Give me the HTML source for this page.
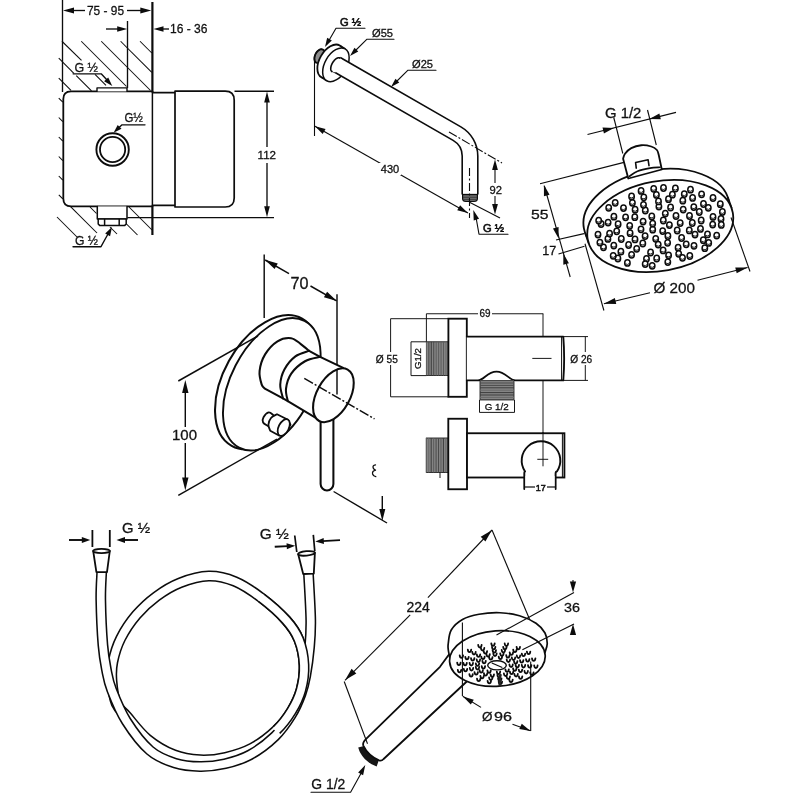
<!DOCTYPE html>
<html><head><meta charset="utf-8"><title>Shower set dimensions</title>
<style>
html,body{margin:0;padding:0;background:#fff;}
svg{display:block;filter:blur(0.35px);font-family:"Liberation Sans",sans-serif;fill:#151515;}
</style></head><body>
<svg width="800" height="800" viewBox="0 0 800 800">
<rect width="800" height="800" fill="#fff"/>
<!-- c1 -->
<line x1="62.50" y1="0.00" x2="62.50" y2="92.00" stroke="#0c0c0c" stroke-width="1.35" stroke-linecap="butt"/>
<line x1="152.40" y1="2.00" x2="152.40" y2="92.00" stroke="#0c0c0c" stroke-width="2.2" stroke-linecap="butt"/>
<line x1="152.40" y1="205.00" x2="152.40" y2="235.00" stroke="#0c0c0c" stroke-width="2.2" stroke-linecap="butt"/>
<line x1="70.00" y1="10.50" x2="85.00" y2="10.50" stroke="#0c0c0c" stroke-width="1.35" stroke-linecap="butt"/>
<line x1="127.00" y1="10.50" x2="145.00" y2="10.50" stroke="#0c0c0c" stroke-width="1.35" stroke-linecap="butt"/>
<polygon points="63.00,10.50 74.00,7.60 74.00,13.40" fill="#0c0c0c"/>
<polygon points="151.30,10.50 140.30,13.40 140.30,7.60" fill="#0c0c0c"/>
<text x="105.50" y="15.00" font-size="12.5" text-anchor="middle" font-weight="normal" stroke="#0c0c0c" stroke-width="0.28" textLength="37.0" lengthAdjust="spacingAndGlyphs">75 - 95</text>
<line x1="127.50" y1="21.00" x2="127.50" y2="88.00" stroke="#0c0c0c" stroke-width="1.35" stroke-linecap="butt"/>
<line x1="106.00" y1="29.00" x2="120.00" y2="29.00" stroke="#0c0c0c" stroke-width="1.35" stroke-linecap="butt"/>
<polygon points="127.20,29.00 117.20,31.80 117.20,26.20" fill="#0c0c0c"/>
<polygon points="153.50,29.00 163.50,26.20 163.50,31.80" fill="#0c0c0c"/>
<line x1="160.00" y1="29.00" x2="169.00" y2="29.00" stroke="#0c0c0c" stroke-width="1.35" stroke-linecap="butt"/>
<text x="170.00" y="33.20" font-size="12.5" text-anchor="start" font-weight="normal" stroke="#0c0c0c" stroke-width="0.28" textLength="37.5" lengthAdjust="spacingAndGlyphs">16 - 36</text>
<line x1="61.90" y1="41.25" x2="81.50" y2="60.30" stroke="#0c0c0c" stroke-width="1.05" stroke-linecap="butt"/>
<line x1="95.00" y1="74.40" x2="106.00" y2="85.40" stroke="#0c0c0c" stroke-width="1.05" stroke-linecap="butt"/>
<line x1="81.25" y1="41.25" x2="126.50" y2="86.50" stroke="#0c0c0c" stroke-width="1.05" stroke-linecap="butt"/>
<line x1="101.25" y1="41.25" x2="150.50" y2="90.50" stroke="#0c0c0c" stroke-width="1.05" stroke-linecap="butt"/>
<line x1="120.60" y1="41.25" x2="151.80" y2="72.40" stroke="#0c0c0c" stroke-width="1.05" stroke-linecap="butt"/>
<line x1="140.00" y1="41.25" x2="151.80" y2="53.00" stroke="#0c0c0c" stroke-width="1.05" stroke-linecap="butt"/>
<line x1="58.75" y1="58.10" x2="73.90" y2="73.30" stroke="#0c0c0c" stroke-width="1.05" stroke-linecap="butt"/>
<line x1="76.25" y1="75.60" x2="91.50" y2="90.90" stroke="#0c0c0c" stroke-width="1.05" stroke-linecap="butt"/>
<line x1="58.75" y1="78.10" x2="71.00" y2="90.40" stroke="#0c0c0c" stroke-width="1.05" stroke-linecap="butt"/>
<line x1="58.75" y1="98.10" x2="62.80" y2="102.15" stroke="#0c0c0c" stroke-width="1.05" stroke-linecap="butt"/>
<line x1="58.75" y1="117.50" x2="62.80" y2="121.55" stroke="#0c0c0c" stroke-width="1.05" stroke-linecap="butt"/>
<line x1="58.75" y1="137.00" x2="62.80" y2="141.05" stroke="#0c0c0c" stroke-width="1.05" stroke-linecap="butt"/>
<line x1="58.75" y1="156.50" x2="62.80" y2="160.55" stroke="#0c0c0c" stroke-width="1.05" stroke-linecap="butt"/>
<line x1="58.75" y1="176.00" x2="62.80" y2="180.05" stroke="#0c0c0c" stroke-width="1.05" stroke-linecap="butt"/>
<line x1="58.80" y1="194.80" x2="62.80" y2="198.80" stroke="#0c0c0c" stroke-width="1.05" stroke-linecap="butt"/>
<line x1="70.30" y1="206.30" x2="97.00" y2="233.00" stroke="#0c0c0c" stroke-width="1.05" stroke-linecap="butt"/>
<line x1="57.00" y1="217.00" x2="77.00" y2="237.00" stroke="#0c0c0c" stroke-width="1.05" stroke-linecap="butt"/>
<line x1="90.00" y1="207.00" x2="96.50" y2="213.50" stroke="#0c0c0c" stroke-width="1.05" stroke-linecap="butt"/>
<line x1="129.00" y1="207.00" x2="152.00" y2="230.00" stroke="#0c0c0c" stroke-width="1.05" stroke-linecap="butt"/>
<line x1="124.50" y1="222.00" x2="137.50" y2="235.00" stroke="#0c0c0c" stroke-width="1.05" stroke-linecap="butt"/>
<line x1="110.00" y1="227.00" x2="117.00" y2="234.00" stroke="#0c0c0c" stroke-width="1.05" stroke-linecap="butt"/>
<path d="M152.4,91.4 H71 Q63.3,91.4 63.3,99.1 V198.5 Q63.3,206.4 71.2,206.4 H152.4" fill="#fff" stroke="#0c0c0c" stroke-width="1.8" stroke-linejoin="round" stroke-linecap="round" />
<line x1="152.40" y1="91.00" x2="152.40" y2="206.00" stroke="#0c0c0c" stroke-width="1.5" stroke-linecap="butt"/>
<path d="M152.4,92.6 H175 M152.4,205.4 H175" fill="none" stroke="#0c0c0c" stroke-width="1.6" stroke-linejoin="round" stroke-linecap="round" />
<path d="M175,91.2 H225.2 Q234.2,91.2 234.2,100.2 V198 Q234.2,207 225.2,207 H175 Z" fill="#fff" stroke="#0c0c0c" stroke-width="1.7" stroke-linejoin="round" stroke-linecap="round" />
<path d="M97,91.4 V87.9 H127 V91.4" fill="#fff" stroke="#0c0c0c" stroke-width="1.4" stroke-linejoin="round" stroke-linecap="round" />
<path d="M97.3,206.4 V219 H127 V206.4" fill="#fff" stroke="#0c0c0c" stroke-width="1.5" stroke-linejoin="round" stroke-linecap="round" />
<path d="M98.2,219 V224 L99.6,225.4 H124.8 L126.2,224 V219 Z M104.6,219 V225.4 M119.2,219 V225.4" fill="#fff" stroke="#0c0c0c" stroke-width="1.5" stroke-linejoin="round" stroke-linecap="round" />
<line x1="234.50" y1="91.20" x2="274.00" y2="91.20" stroke="#0c0c0c" stroke-width="1.35" stroke-linecap="butt"/>
<line x1="127.30" y1="217.60" x2="274.00" y2="217.60" stroke="#0c0c0c" stroke-width="1.35" stroke-linecap="butt"/>
<line x1="267.00" y1="98.00" x2="267.00" y2="211.00" stroke="#0c0c0c" stroke-width="1.35" stroke-linecap="butt"/>
<polygon points="267.00,91.60 269.80,102.60 264.20,102.60" fill="#0c0c0c"/>
<polygon points="267.00,217.20 264.20,206.20 269.80,206.20" fill="#0c0c0c"/>
<rect x="256.00" y="147.00" width="21.00" height="16.00" fill="#fff"/>
<text x="266.80" y="159.20" font-size="11.5" text-anchor="middle" font-weight="normal" stroke="#0c0c0c" stroke-width="0.28" textLength="18.5" lengthAdjust="spacingAndGlyphs">112</text>
<circle cx="112.60" cy="149.50" r="16.20" fill="#fff" stroke="#0c0c0c" stroke-width="1.9"/>
<circle cx="112.60" cy="149.50" r="12.60" fill="none" stroke="#0c0c0c" stroke-width="1.8"/>
<text x="124.40" y="122.30" font-size="12" text-anchor="start" font-weight="normal" stroke="#0c0c0c" stroke-width="0.28" textLength="18.5" lengthAdjust="spacingAndGlyphs">G½</text>
<path d="M145,124.8 H122 L117.5,129" fill="none" stroke="#0c0c0c" stroke-width="1.35" stroke-linejoin="round" stroke-linecap="round" />
<polygon points="113.60,132.80 117.70,124.88 121.52,128.70" fill="#0c0c0c"/>
<text x="74.40" y="71.90" font-size="12" text-anchor="start" font-weight="normal" stroke="#0c0c0c" stroke-width="0.28" textLength="23.5" lengthAdjust="spacingAndGlyphs">G ½</text>
<path d="M73.1,73.8 H101.2 L107,80" fill="none" stroke="#0c0c0c" stroke-width="1.35" stroke-linejoin="round" stroke-linecap="round" />
<polygon points="112.30,86.00 104.11,81.33 108.21,77.51" fill="#0c0c0c"/>
<text x="75.00" y="245.00" font-size="12" text-anchor="start" font-weight="normal" stroke="#0c0c0c" stroke-width="0.28" textLength="23.0" lengthAdjust="spacingAndGlyphs">G ½</text>
<path d="M73,246.7 H101 L108,234" fill="none" stroke="#0c0c0c" stroke-width="1.35" stroke-linejoin="round" stroke-linecap="round" />
<polygon points="112.00,227.00 110.09,236.23 105.19,233.51" fill="#0c0c0c"/>
<!-- c2 -->
<line x1="314.50" y1="56.00" x2="314.50" y2="136.00" stroke="#0c0c0c" stroke-width="1.1" stroke-linecap="butt"/>
<ellipse cx="319.60" cy="56.20" rx="4.60" ry="7.40" transform="rotate(25.00 319.60 56.20)" fill="#8c8c8c" stroke="#0c0c0c" stroke-width="1.3"/>
<path d="M315.80,62.47 L315.26,61.87 L314.84,61.12 L314.56,60.24 L314.41,59.24 L314.40,58.16 L314.54,57.03 L314.82,55.88 L315.22,54.73 L315.75,53.62 L316.38,52.59 L317.10,51.65 L317.89,50.84 L318.73,50.17 L319.59,49.67 L320.45,49.35 L321.29,49.22 L322.08,49.28 L322.80,49.53 L323.43,49.96 L323.96,50.56" fill="none" stroke="#0c0c0c" stroke-width="1.8" stroke-linejoin="round" stroke-linecap="round" />
<ellipse cx="330.60" cy="61.40" rx="18.40" ry="11.00" transform="rotate(-60.00 330.60 61.40)" fill="#fff" stroke="#0c0c0c" stroke-width="1.8"/>
<line x1="321.15" y1="77.19" x2="326.45" y2="80.59" stroke="#0c0c0c" stroke-width="1.6" stroke-linecap="butt"/>
<line x1="340.05" y1="45.61" x2="345.35" y2="49.01" stroke="#0c0c0c" stroke-width="1.6" stroke-linecap="butt"/>
<ellipse cx="335.90" cy="64.80" rx="18.40" ry="11.00" transform="rotate(-60.00 335.90 64.80)" fill="#fff" stroke="#0c0c0c" stroke-width="1.5"/>
<path d="M336.4,64.3 L457.0,133.6 A26,26 0 0 1 470,156 L470,194.5" fill="none" stroke="#0c0c0c" stroke-width="17.2" stroke-linejoin="round" stroke-linecap="butt" />
<path d="M335.5,63.8 L457.0,133.6 A26,26 0 0 1 470,156 L470,195.5" fill="none" stroke="#fff" stroke-width="14.0" stroke-linejoin="round" stroke-linecap="butt" />
<path d="M332.00,71.55 L331.59,71.24 L331.26,70.82 L331.00,70.29 L330.83,69.67 L330.75,68.97 L330.75,68.20 L330.85,67.37 L331.02,66.49 L331.29,65.58 L331.63,64.66 L332.04,63.75 L332.52,62.85 L333.06,61.98 L333.65,61.17 L334.27,60.41 L334.92,59.73 L335.59,59.14 L336.27,58.64 L336.94,58.25 L337.59,57.98 L338.21,57.81 L338.79,57.77 L339.33,57.85 L339.80,58.05 L342.40,60.44 L335.40,72.56 Z" fill="#fff" stroke="#0c0c0c" stroke-width="0" stroke-linejoin="round" stroke-linecap="round" />
<path d="M332.00,71.55 L331.59,71.24 L331.26,70.82 L331.00,70.29 L330.83,69.67 L330.75,68.97 L330.75,68.20 L330.85,67.37 L331.02,66.49 L331.29,65.58 L331.63,64.66 L332.04,63.75 L332.52,62.85 L333.06,61.98 L333.65,61.17 L334.27,60.41 L334.92,59.73 L335.59,59.14 L336.27,58.64 L336.94,58.25 L337.59,57.98 L338.21,57.81 L338.79,57.77 L339.33,57.85 L339.80,58.05" fill="none" stroke="#0c0c0c" stroke-width="1.6" stroke-linejoin="round" stroke-linecap="round" />
<path d="M462.6,194.5 V198.5 Q462.6,201.5 466,201.5 H474 Q477.4,201.5 477.4,198.5 V194.5 Z" fill="#6a6a6a" stroke="#0c0c0c" stroke-width="1.2" stroke-linejoin="round" stroke-linecap="round" />
<line x1="462.00" y1="194.50" x2="478.00" y2="194.50" stroke="#0c0c0c" stroke-width="1.3" stroke-linecap="butt"/>
<line x1="463.00" y1="197.30" x2="477.00" y2="197.30" stroke="#333" stroke-width="0.8" stroke-linecap="butt"/>
<line x1="463.50" y1="199.60" x2="476.50" y2="199.60" stroke="#333" stroke-width="0.8" stroke-linecap="butt"/>
<text x="340.00" y="26.00" font-size="10.5" text-anchor="start" font-weight="normal" stroke="#0c0c0c" stroke-width="0.55" textLength="21.0" lengthAdjust="spacingAndGlyphs">G ½</text>
<path d="M365,28.2 H336 L329.5,39.5" fill="none" stroke="#0c0c0c" stroke-width="1.1" stroke-linejoin="round" stroke-linecap="round" />
<polygon points="325.00,47.00 327.16,37.86 331.84,40.56" fill="#0c0c0c"/>
<text x="372.00" y="37.00" font-size="10.5" text-anchor="start" font-weight="normal" stroke="#0c0c0c" stroke-width="0.28" textLength="21.0" lengthAdjust="spacingAndGlyphs">Ø55</text>
<path d="M394,39.2 H367 L355.5,50.5" fill="none" stroke="#0c0c0c" stroke-width="1.1" stroke-linejoin="round" stroke-linecap="round" />
<polygon points="350.00,56.00 354.45,47.73 358.27,51.55" fill="#0c0c0c"/>
<text x="412.00" y="68.00" font-size="10.5" text-anchor="start" font-weight="normal" stroke="#0c0c0c" stroke-width="0.28" textLength="21.0" lengthAdjust="spacingAndGlyphs">Ø25</text>
<path d="M436,70.2 H408 L396.5,81.5" fill="none" stroke="#0c0c0c" stroke-width="1.1" stroke-linejoin="round" stroke-linecap="round" />
<polygon points="391.00,87.00 395.45,78.73 399.27,82.55" fill="#0c0c0c"/>
<line x1="314.50" y1="126.00" x2="468.00" y2="213.00" stroke="#0c0c0c" stroke-width="1.1" stroke-linecap="butt"/>
<polygon points="315.00,126.30 325.56,128.95 322.70,134.00" fill="#0c0c0c"/>
<polygon points="467.80,212.90 457.24,210.25 460.10,205.20" fill="#0c0c0c"/>
<rect x="379.00" y="163.00" width="22.00" height="12.00" fill="#fff"/>
<text x="390.00" y="173.20" font-size="10.5" text-anchor="middle" font-weight="normal" stroke="#0c0c0c" stroke-width="0.28" textLength="18.5" lengthAdjust="spacingAndGlyphs">430</text>
<line x1="449.00" y1="132.00" x2="502.00" y2="163.00" stroke="#0c0c0c" stroke-width="1.1" stroke-linecap="butt" stroke-dasharray="9 2 2 2"/>
<line x1="469.50" y1="168.00" x2="469.50" y2="218.00" stroke="#0c0c0c" stroke-width="1.1" stroke-linecap="butt" stroke-dasharray="8 2.5 2 2.5"/>
<line x1="469.50" y1="202.30" x2="500.00" y2="218.00" stroke="#0c0c0c" stroke-width="1.1" stroke-linecap="butt"/>
<line x1="495.00" y1="165.00" x2="495.00" y2="210.00" stroke="#0c0c0c" stroke-width="1.1" stroke-linecap="butt"/>
<polygon points="495.00,159.50 497.90,170.00 492.10,170.00" fill="#0c0c0c"/>
<polygon points="495.00,214.50 492.10,204.00 497.90,204.00" fill="#0c0c0c"/>
<rect x="488.00" y="183.00" width="15.00" height="13.00" fill="#fff"/>
<text x="495.70" y="194.00" font-size="11" text-anchor="middle" font-weight="normal" stroke="#0c0c0c" stroke-width="0.28" textLength="12.5" lengthAdjust="spacingAndGlyphs">92</text>
<text x="483.00" y="232.00" font-size="10.5" text-anchor="start" font-weight="normal" stroke="#0c0c0c" stroke-width="0.55" textLength="21.0" lengthAdjust="spacingAndGlyphs">G ½</text>
<path d="M508,234.2 H479 L476.3,219" fill="none" stroke="#0c0c0c" stroke-width="1.1" stroke-linejoin="round" stroke-linecap="round" />
<polygon points="473.30,210.00 479.05,218.65 473.73,220.38" fill="#0c0c0c"/>
<!-- c3 -->
<line x1="613.75" y1="117.50" x2="622.80" y2="153.50" stroke="#0c0c0c" stroke-width="1.1" stroke-linecap="butt"/>
<line x1="647.50" y1="110.00" x2="656.30" y2="145.00" stroke="#0c0c0c" stroke-width="1.1" stroke-linecap="butt"/>
<line x1="540.00" y1="183.75" x2="624.00" y2="162.40" stroke="#0c0c0c" stroke-width="1.1" stroke-linecap="butt"/>
<ellipse cx="656.40" cy="214.90" rx="73.75" ry="44.80" transform="rotate(-10.50 656.40 214.90)" fill="#fff" stroke="#0c0c0c" stroke-width="1.8"/>
<line x1="585.00" y1="232.50" x2="588.85" y2="243.60" stroke="#0c0c0c" stroke-width="1.8" stroke-linecap="butt"/>
<line x1="727.80" y1="197.30" x2="731.65" y2="208.40" stroke="#0c0c0c" stroke-width="1.8" stroke-linecap="butt"/>
<path d="M628.3,178.5 L623.1,158.75 L623.10,158.75 C623.42,157.92 623.64,155.53 625.00,153.75 C626.36,151.97 628.54,149.52 631.25,148.10 C633.96,146.68 637.92,145.52 641.25,145.25 C644.58,144.98 648.64,145.71 651.25,146.50 C653.86,147.29 655.65,148.58 656.90,150.00 C658.15,151.42 658.44,154.17 658.75,155.00 L661.8,169.5 Z" fill="#fff" stroke="#0c0c0c" stroke-width="1.8" stroke-linejoin="round" stroke-linecap="round" />
<path d="M636.25,168.1 L635.6,162.5 L648.1,159.75 L649,165.6" fill="none" stroke="#0c0c0c" stroke-width="1.6" stroke-linejoin="round" stroke-linecap="round" />
<path d="M629.40,176.25 C630.75,175.42 634.07,172.61 637.50,171.25 C640.93,169.89 646.25,168.76 650.00,168.10 C653.75,167.44 658.33,167.43 660.00,167.30" fill="none" stroke="#0c0c0c" stroke-width="1.6" stroke-linejoin="round" stroke-linecap="round" />
<ellipse cx="660.25" cy="226.00" rx="73.75" ry="44.80" transform="rotate(-10.50 660.25 226.00)" fill="#fff" stroke="#0c0c0c" stroke-width="1.8"/>
<ellipse cx="669.4" cy="225.1" rx="2.7" ry="3.15" transform="rotate(-0 669.4 225.1)" fill="#fff" stroke="#0c0c0c" stroke-width="1.5"/>
<path d="M667.4,226.0 Q669.7,227.7 671.7,225.3" fill="none" stroke="#0c0c0c" stroke-width="0.9"/>
<ellipse cx="662.7" cy="231.1" rx="2.7" ry="3.15" transform="rotate(-0 662.7 231.1)" fill="#fff" stroke="#0c0c0c" stroke-width="1.5"/>
<path d="M660.7,232.0 Q663.0,233.7 665.0,231.3" fill="none" stroke="#0c0c0c" stroke-width="0.9"/>
<ellipse cx="652.7" cy="229.7" rx="2.7" ry="3.15" transform="rotate(-0 652.7 229.7)" fill="#fff" stroke="#0c0c0c" stroke-width="1.5"/>
<path d="M650.7,230.6 Q653.0,232.3 655.0,229.9" fill="none" stroke="#0c0c0c" stroke-width="0.9"/>
<ellipse cx="652.7" cy="223.6" rx="2.7" ry="3.15" transform="rotate(-0 652.7 223.6)" fill="#fff" stroke="#0c0c0c" stroke-width="1.5"/>
<path d="M650.7,224.5 Q653.0,226.2 655.0,223.8" fill="none" stroke="#0c0c0c" stroke-width="0.9"/>
<ellipse cx="663.3" cy="220.5" rx="2.7" ry="3.15" transform="rotate(-0 663.3 220.5)" fill="#fff" stroke="#0c0c0c" stroke-width="1.5"/>
<path d="M661.3,221.4 Q663.6,223.1 665.6,220.7" fill="none" stroke="#0c0c0c" stroke-width="0.9"/>
<ellipse cx="680.2" cy="223.1" rx="2.7" ry="3.15" transform="rotate(-0 680.2 223.1)" fill="#fff" stroke="#0c0c0c" stroke-width="1.5"/>
<path d="M678.2,224.0 Q680.5,225.7 682.5,223.3" fill="none" stroke="#0c0c0c" stroke-width="0.9"/>
<ellipse cx="677.2" cy="230.5" rx="2.7" ry="3.15" transform="rotate(-0 677.2 230.5)" fill="#fff" stroke="#0c0c0c" stroke-width="1.5"/>
<path d="M675.2,231.4 Q677.5,233.1 679.5,230.7" fill="none" stroke="#0c0c0c" stroke-width="0.9"/>
<ellipse cx="667.9" cy="236.0" rx="2.7" ry="3.15" transform="rotate(-0 667.9 236.0)" fill="#fff" stroke="#0c0c0c" stroke-width="1.5"/>
<path d="M665.9,236.9 Q668.2,238.6 670.2,236.2" fill="none" stroke="#0c0c0c" stroke-width="0.9"/>
<ellipse cx="655.7" cy="238.8" rx="2.7" ry="3.15" transform="rotate(-0 655.7 238.8)" fill="#fff" stroke="#0c0c0c" stroke-width="1.5"/>
<path d="M653.7,239.7 Q656.0,241.4 658.0,239.0" fill="none" stroke="#0c0c0c" stroke-width="0.9"/>
<ellipse cx="645.1" cy="236.1" rx="2.7" ry="3.15" transform="rotate(-0 645.1 236.1)" fill="#fff" stroke="#0c0c0c" stroke-width="1.5"/>
<path d="M643.1,237.0 Q645.4,238.7 647.4,236.3" fill="none" stroke="#0c0c0c" stroke-width="0.9"/>
<ellipse cx="641.0" cy="229.3" rx="2.7" ry="3.15" transform="rotate(-0 641.0 229.3)" fill="#fff" stroke="#0c0c0c" stroke-width="1.5"/>
<path d="M639.0,230.2 Q641.3,231.9 643.3,229.5" fill="none" stroke="#0c0c0c" stroke-width="0.9"/>
<ellipse cx="643.1" cy="221.6" rx="2.7" ry="3.15" transform="rotate(-0 643.1 221.6)" fill="#fff" stroke="#0c0c0c" stroke-width="1.5"/>
<path d="M641.1,222.5 Q643.4,224.2 645.4,221.8" fill="none" stroke="#0c0c0c" stroke-width="0.9"/>
<ellipse cx="651.8" cy="216.4" rx="2.7" ry="3.15" transform="rotate(-0 651.8 216.4)" fill="#fff" stroke="#0c0c0c" stroke-width="1.5"/>
<path d="M649.8,217.3 Q652.1,219.0 654.1,216.6" fill="none" stroke="#0c0c0c" stroke-width="0.9"/>
<ellipse cx="665.3" cy="213.6" rx="2.7" ry="3.15" transform="rotate(-0 665.3 213.6)" fill="#fff" stroke="#0c0c0c" stroke-width="1.5"/>
<path d="M663.3,214.5 Q665.6,216.2 667.6,213.8" fill="none" stroke="#0c0c0c" stroke-width="0.9"/>
<ellipse cx="676.0" cy="216.0" rx="2.7" ry="3.15" transform="rotate(-0 676.0 216.0)" fill="#fff" stroke="#0c0c0c" stroke-width="1.5"/>
<path d="M674.0,216.9 Q676.3,218.6 678.3,216.2" fill="none" stroke="#0c0c0c" stroke-width="0.9"/>
<ellipse cx="692.3" cy="223.0" rx="2.7" ry="3.15" transform="rotate(-0 692.3 223.0)" fill="#fff" stroke="#0c0c0c" stroke-width="1.5"/>
<path d="M690.3,223.9 Q692.6,225.6 694.6,223.2" fill="none" stroke="#0c0c0c" stroke-width="0.9"/>
<ellipse cx="689.3" cy="230.4" rx="2.7" ry="3.15" transform="rotate(-0 689.3 230.4)" fill="#fff" stroke="#0c0c0c" stroke-width="1.5"/>
<path d="M687.3,231.3 Q689.6,233.0 691.6,230.6" fill="none" stroke="#0c0c0c" stroke-width="0.9"/>
<ellipse cx="681.6" cy="238.0" rx="2.7" ry="3.15" transform="rotate(-0 681.6 238.0)" fill="#fff" stroke="#0c0c0c" stroke-width="1.5"/>
<path d="M679.6,238.9 Q681.9,240.6 683.9,238.2" fill="none" stroke="#0c0c0c" stroke-width="0.9"/>
<ellipse cx="667.6" cy="242.8" rx="2.7" ry="3.15" transform="rotate(-0 667.6 242.8)" fill="#fff" stroke="#0c0c0c" stroke-width="1.5"/>
<path d="M665.6,243.7 Q667.9,245.4 669.9,243.0" fill="none" stroke="#0c0c0c" stroke-width="0.9"/>
<ellipse cx="658.2" cy="244.6" rx="2.7" ry="3.15" transform="rotate(-0 658.2 244.6)" fill="#fff" stroke="#0c0c0c" stroke-width="1.5"/>
<path d="M656.2,245.5 Q658.5,247.2 660.5,244.8" fill="none" stroke="#0c0c0c" stroke-width="0.9"/>
<ellipse cx="642.8" cy="243.5" rx="2.7" ry="3.15" transform="rotate(-0 642.8 243.5)" fill="#fff" stroke="#0c0c0c" stroke-width="1.5"/>
<path d="M640.8,244.4 Q643.1,246.1 645.1,243.7" fill="none" stroke="#0c0c0c" stroke-width="0.9"/>
<ellipse cx="635.0" cy="239.4" rx="2.7" ry="3.15" transform="rotate(-0 635.0 239.4)" fill="#fff" stroke="#0c0c0c" stroke-width="1.5"/>
<path d="M633.0,240.3 Q635.3,242.0 637.3,239.6" fill="none" stroke="#0c0c0c" stroke-width="0.9"/>
<ellipse cx="630.1" cy="233.2" rx="2.7" ry="3.15" transform="rotate(-0 630.1 233.2)" fill="#fff" stroke="#0c0c0c" stroke-width="1.5"/>
<path d="M628.1,234.1 Q630.4,235.8 632.4,233.4" fill="none" stroke="#0c0c0c" stroke-width="0.9"/>
<ellipse cx="629.7" cy="225.8" rx="2.7" ry="3.15" transform="rotate(-0 629.7 225.8)" fill="#fff" stroke="#0c0c0c" stroke-width="1.5"/>
<path d="M627.7,226.7 Q630.0,228.4 632.0,226.0" fill="none" stroke="#0c0c0c" stroke-width="0.9"/>
<ellipse cx="634.8" cy="217.2" rx="2.7" ry="3.15" transform="rotate(-0 634.8 217.2)" fill="#fff" stroke="#0c0c0c" stroke-width="1.5"/>
<path d="M632.8,218.1 Q635.1,219.8 637.1,217.4" fill="none" stroke="#0c0c0c" stroke-width="0.9"/>
<ellipse cx="645.3" cy="210.5" rx="2.7" ry="3.15" transform="rotate(-0 645.3 210.5)" fill="#fff" stroke="#0c0c0c" stroke-width="1.5"/>
<path d="M643.3,211.4 Q645.6,213.1 647.6,210.7" fill="none" stroke="#0c0c0c" stroke-width="0.9"/>
<ellipse cx="658.9" cy="206.6" rx="2.7" ry="3.15" transform="rotate(-0 658.9 206.6)" fill="#fff" stroke="#0c0c0c" stroke-width="1.5"/>
<path d="M656.9,207.5 Q659.2,209.2 661.2,206.8" fill="none" stroke="#0c0c0c" stroke-width="0.9"/>
<ellipse cx="670.6" cy="207.5" rx="2.7" ry="3.15" transform="rotate(-0 670.6 207.5)" fill="#fff" stroke="#0c0c0c" stroke-width="1.5"/>
<path d="M668.6,208.4 Q670.9,210.1 672.9,207.7" fill="none" stroke="#0c0c0c" stroke-width="0.9"/>
<ellipse cx="683.2" cy="209.6" rx="2.7" ry="3.15" transform="rotate(-0 683.2 209.6)" fill="#fff" stroke="#0c0c0c" stroke-width="1.5"/>
<path d="M681.2,210.5 Q683.5,212.2 685.5,209.8" fill="none" stroke="#0c0c0c" stroke-width="0.9"/>
<ellipse cx="689.5" cy="216.0" rx="2.7" ry="3.15" transform="rotate(-0 689.5 216.0)" fill="#fff" stroke="#0c0c0c" stroke-width="1.5"/>
<path d="M687.5,216.9 Q689.8,218.6 691.8,216.2" fill="none" stroke="#0c0c0c" stroke-width="0.9"/>
<ellipse cx="701.2" cy="220.5" rx="2.7" ry="3.15" transform="rotate(-0 701.2 220.5)" fill="#fff" stroke="#0c0c0c" stroke-width="1.5"/>
<path d="M699.2,221.4 Q701.5,223.1 703.5,220.7" fill="none" stroke="#0c0c0c" stroke-width="0.9"/>
<ellipse cx="700.5" cy="228.9" rx="2.7" ry="3.15" transform="rotate(-0 700.5 228.9)" fill="#fff" stroke="#0c0c0c" stroke-width="1.5"/>
<path d="M698.5,229.8 Q700.8,231.5 702.8,229.1" fill="none" stroke="#0c0c0c" stroke-width="0.9"/>
<ellipse cx="695.0" cy="234.6" rx="2.7" ry="3.15" transform="rotate(-0 695.0 234.6)" fill="#fff" stroke="#0c0c0c" stroke-width="1.5"/>
<path d="M693.0,235.5 Q695.3,237.2 697.3,234.8" fill="none" stroke="#0c0c0c" stroke-width="0.9"/>
<ellipse cx="686.2" cy="244.3" rx="2.7" ry="3.15" transform="rotate(-0 686.2 244.3)" fill="#fff" stroke="#0c0c0c" stroke-width="1.5"/>
<path d="M684.2,245.2 Q686.5,246.9 688.5,244.5" fill="none" stroke="#0c0c0c" stroke-width="0.9"/>
<ellipse cx="678.1" cy="247.7" rx="2.7" ry="3.15" transform="rotate(-0 678.1 247.7)" fill="#fff" stroke="#0c0c0c" stroke-width="1.5"/>
<path d="M676.1,248.6 Q678.4,250.3 680.4,247.9" fill="none" stroke="#0c0c0c" stroke-width="0.9"/>
<ellipse cx="663.1" cy="250.4" rx="2.7" ry="3.15" transform="rotate(-0 663.1 250.4)" fill="#fff" stroke="#0c0c0c" stroke-width="1.5"/>
<path d="M661.1,251.3 Q663.4,253.0 665.4,250.6" fill="none" stroke="#0c0c0c" stroke-width="0.9"/>
<ellipse cx="650.6" cy="252.5" rx="2.7" ry="3.15" transform="rotate(-0 650.6 252.5)" fill="#fff" stroke="#0c0c0c" stroke-width="1.5"/>
<path d="M648.6,253.4 Q650.9,255.1 652.9,252.7" fill="none" stroke="#0c0c0c" stroke-width="0.9"/>
<ellipse cx="636.7" cy="248.8" rx="2.7" ry="3.15" transform="rotate(-0 636.7 248.8)" fill="#fff" stroke="#0c0c0c" stroke-width="1.5"/>
<path d="M634.7,249.7 Q637.0,251.4 639.0,249.0" fill="none" stroke="#0c0c0c" stroke-width="0.9"/>
<ellipse cx="628.6" cy="245.0" rx="2.7" ry="3.15" transform="rotate(-0 628.6 245.0)" fill="#fff" stroke="#0c0c0c" stroke-width="1.5"/>
<path d="M626.6,245.9 Q628.9,247.6 630.9,245.2" fill="none" stroke="#0c0c0c" stroke-width="0.9"/>
<ellipse cx="621.3" cy="239.0" rx="2.7" ry="3.15" transform="rotate(-0 621.3 239.0)" fill="#fff" stroke="#0c0c0c" stroke-width="1.5"/>
<path d="M619.3,239.9 Q621.6,241.6 623.6,239.2" fill="none" stroke="#0c0c0c" stroke-width="0.9"/>
<ellipse cx="616.7" cy="231.3" rx="2.7" ry="3.15" transform="rotate(-0 616.7 231.3)" fill="#fff" stroke="#0c0c0c" stroke-width="1.5"/>
<path d="M614.7,232.2 Q617.0,233.9 619.0,231.5" fill="none" stroke="#0c0c0c" stroke-width="0.9"/>
<ellipse cx="618.1" cy="224.2" rx="2.7" ry="3.15" transform="rotate(-0 618.1 224.2)" fill="#fff" stroke="#0c0c0c" stroke-width="1.5"/>
<path d="M616.1,225.1 Q618.4,226.8 620.4,224.4" fill="none" stroke="#0c0c0c" stroke-width="0.9"/>
<ellipse cx="625.6" cy="217.3" rx="2.7" ry="3.15" transform="rotate(-0 625.6 217.3)" fill="#fff" stroke="#0c0c0c" stroke-width="1.5"/>
<path d="M623.6,218.2 Q625.9,219.9 627.9,217.5" fill="none" stroke="#0c0c0c" stroke-width="0.9"/>
<ellipse cx="635.1" cy="209.7" rx="2.7" ry="3.15" transform="rotate(-0 635.1 209.7)" fill="#fff" stroke="#0c0c0c" stroke-width="1.5"/>
<path d="M633.1,210.6 Q635.4,212.3 637.4,209.9" fill="none" stroke="#0c0c0c" stroke-width="0.9"/>
<ellipse cx="643.5" cy="204.8" rx="2.7" ry="3.15" transform="rotate(-0 643.5 204.8)" fill="#fff" stroke="#0c0c0c" stroke-width="1.5"/>
<path d="M641.5,205.7 Q643.8,207.4 645.8,205.0" fill="none" stroke="#0c0c0c" stroke-width="0.9"/>
<ellipse cx="658.5" cy="201.4" rx="2.7" ry="3.15" transform="rotate(-0 658.5 201.4)" fill="#fff" stroke="#0c0c0c" stroke-width="1.5"/>
<path d="M656.5,202.3 Q658.8,204.0 660.8,201.6" fill="none" stroke="#0c0c0c" stroke-width="0.9"/>
<ellipse cx="668.5" cy="199.2" rx="2.7" ry="3.15" transform="rotate(-0 668.5 199.2)" fill="#fff" stroke="#0c0c0c" stroke-width="1.5"/>
<path d="M666.5,200.1 Q668.8,201.8 670.8,199.4" fill="none" stroke="#0c0c0c" stroke-width="0.9"/>
<ellipse cx="682.8" cy="200.7" rx="2.7" ry="3.15" transform="rotate(-0 682.8 200.7)" fill="#fff" stroke="#0c0c0c" stroke-width="1.5"/>
<path d="M680.8,201.6 Q683.1,203.3 685.1,200.9" fill="none" stroke="#0c0c0c" stroke-width="0.9"/>
<ellipse cx="693.8" cy="207.1" rx="2.7" ry="3.15" transform="rotate(-0 693.8 207.1)" fill="#fff" stroke="#0c0c0c" stroke-width="1.5"/>
<path d="M691.8,208.0 Q694.1,209.7 696.1,207.3" fill="none" stroke="#0c0c0c" stroke-width="0.9"/>
<ellipse cx="699.3" cy="212.0" rx="2.7" ry="3.15" transform="rotate(-0 699.3 212.0)" fill="#fff" stroke="#0c0c0c" stroke-width="1.5"/>
<path d="M697.3,212.9 Q699.6,214.6 701.6,212.2" fill="none" stroke="#0c0c0c" stroke-width="0.9"/>
<ellipse cx="713.0" cy="216.9" rx="2.7" ry="3.15" transform="rotate(-0 713.0 216.9)" fill="#fff" stroke="#0c0c0c" stroke-width="1.5"/>
<path d="M711.0,217.8 Q713.3,219.5 715.3,217.1" fill="none" stroke="#0c0c0c" stroke-width="0.9"/>
<ellipse cx="712.7" cy="224.6" rx="2.7" ry="3.15" transform="rotate(-0 712.7 224.6)" fill="#fff" stroke="#0c0c0c" stroke-width="1.5"/>
<path d="M710.7,225.5 Q713.0,227.2 715.0,224.8" fill="none" stroke="#0c0c0c" stroke-width="0.9"/>
<ellipse cx="707.5" cy="234.4" rx="2.7" ry="3.15" transform="rotate(-0 707.5 234.4)" fill="#fff" stroke="#0c0c0c" stroke-width="1.5"/>
<path d="M705.5,235.3 Q707.8,237.0 709.8,234.6" fill="none" stroke="#0c0c0c" stroke-width="0.9"/>
<ellipse cx="703.3" cy="240.2" rx="2.7" ry="3.15" transform="rotate(-0 703.3 240.2)" fill="#fff" stroke="#0c0c0c" stroke-width="1.5"/>
<path d="M701.3,241.1 Q703.6,242.8 705.6,240.4" fill="none" stroke="#0c0c0c" stroke-width="0.9"/>
<ellipse cx="694.0" cy="245.8" rx="2.7" ry="3.15" transform="rotate(-0 694.0 245.8)" fill="#fff" stroke="#0c0c0c" stroke-width="1.5"/>
<path d="M692.0,246.7 Q694.3,248.4 696.3,246.0" fill="none" stroke="#0c0c0c" stroke-width="0.9"/>
<ellipse cx="678.7" cy="253.8" rx="2.7" ry="3.15" transform="rotate(-0 678.7 253.8)" fill="#fff" stroke="#0c0c0c" stroke-width="1.5"/>
<path d="M676.7,254.7 Q679.0,256.4 681.0,254.0" fill="none" stroke="#0c0c0c" stroke-width="0.9"/>
<ellipse cx="668.6" cy="255.3" rx="2.7" ry="3.15" transform="rotate(-0 668.6 255.3)" fill="#fff" stroke="#0c0c0c" stroke-width="1.5"/>
<path d="M666.6,256.2 Q668.9,257.9 670.9,255.5" fill="none" stroke="#0c0c0c" stroke-width="0.9"/>
<ellipse cx="656.7" cy="258.5" rx="2.7" ry="3.15" transform="rotate(-0 656.7 258.5)" fill="#fff" stroke="#0c0c0c" stroke-width="1.5"/>
<path d="M654.7,259.4 Q657.0,261.1 659.0,258.7" fill="none" stroke="#0c0c0c" stroke-width="0.9"/>
<ellipse cx="646.5" cy="258.8" rx="2.7" ry="3.15" transform="rotate(-0 646.5 258.8)" fill="#fff" stroke="#0c0c0c" stroke-width="1.5"/>
<path d="M644.5,259.7 Q646.8,261.4 648.8,259.0" fill="none" stroke="#0c0c0c" stroke-width="0.9"/>
<ellipse cx="631.6" cy="254.8" rx="2.7" ry="3.15" transform="rotate(-0 631.6 254.8)" fill="#fff" stroke="#0c0c0c" stroke-width="1.5"/>
<path d="M629.6,255.7 Q631.9,257.4 633.9,255.0" fill="none" stroke="#0c0c0c" stroke-width="0.9"/>
<ellipse cx="620.9" cy="251.7" rx="2.7" ry="3.15" transform="rotate(-0 620.9 251.7)" fill="#fff" stroke="#0c0c0c" stroke-width="1.5"/>
<path d="M618.9,252.6 Q621.2,254.3 623.2,251.9" fill="none" stroke="#0c0c0c" stroke-width="0.9"/>
<ellipse cx="613.8" cy="245.6" rx="2.7" ry="3.15" transform="rotate(-0 613.8 245.6)" fill="#fff" stroke="#0c0c0c" stroke-width="1.5"/>
<path d="M611.8,246.5 Q614.1,248.2 616.1,245.8" fill="none" stroke="#0c0c0c" stroke-width="0.9"/>
<ellipse cx="607.9" cy="238.9" rx="2.7" ry="3.15" transform="rotate(-0 607.9 238.9)" fill="#fff" stroke="#0c0c0c" stroke-width="1.5"/>
<path d="M605.9,239.8 Q608.2,241.5 610.2,239.1" fill="none" stroke="#0c0c0c" stroke-width="0.9"/>
<ellipse cx="609.6" cy="233.6" rx="2.7" ry="3.15" transform="rotate(-0 609.6 233.6)" fill="#fff" stroke="#0c0c0c" stroke-width="1.5"/>
<path d="M607.6,234.5 Q609.9,236.2 611.9,233.8" fill="none" stroke="#0c0c0c" stroke-width="0.9"/>
<ellipse cx="608.1" cy="222.6" rx="2.7" ry="3.15" transform="rotate(-0 608.1 222.6)" fill="#fff" stroke="#0c0c0c" stroke-width="1.5"/>
<path d="M606.1,223.5 Q608.4,225.2 610.4,222.8" fill="none" stroke="#0c0c0c" stroke-width="0.9"/>
<ellipse cx="613.9" cy="216.7" rx="2.7" ry="3.15" transform="rotate(-0 613.9 216.7)" fill="#fff" stroke="#0c0c0c" stroke-width="1.5"/>
<path d="M611.9,217.6 Q614.2,219.3 616.2,216.9" fill="none" stroke="#0c0c0c" stroke-width="0.9"/>
<ellipse cx="623.5" cy="208.1" rx="2.7" ry="3.15" transform="rotate(-0 623.5 208.1)" fill="#fff" stroke="#0c0c0c" stroke-width="1.5"/>
<path d="M621.5,209.0 Q623.8,210.7 625.8,208.3" fill="none" stroke="#0c0c0c" stroke-width="0.9"/>
<ellipse cx="632.4" cy="202.8" rx="2.7" ry="3.15" transform="rotate(-0 632.4 202.8)" fill="#fff" stroke="#0c0c0c" stroke-width="1.5"/>
<path d="M630.4,203.7 Q632.7,205.4 634.7,203.0" fill="none" stroke="#0c0c0c" stroke-width="0.9"/>
<ellipse cx="643.8" cy="197.3" rx="2.7" ry="3.15" transform="rotate(-0 643.8 197.3)" fill="#fff" stroke="#0c0c0c" stroke-width="1.5"/>
<path d="M641.8,198.2 Q644.1,199.9 646.1,197.5" fill="none" stroke="#0c0c0c" stroke-width="0.9"/>
<ellipse cx="656.4" cy="194.9" rx="2.7" ry="3.15" transform="rotate(-0 656.4 194.9)" fill="#fff" stroke="#0c0c0c" stroke-width="1.5"/>
<path d="M654.4,195.8 Q656.7,197.5 658.7,195.1" fill="none" stroke="#0c0c0c" stroke-width="0.9"/>
<ellipse cx="672.4" cy="194.7" rx="2.7" ry="3.15" transform="rotate(-0 672.4 194.7)" fill="#fff" stroke="#0c0c0c" stroke-width="1.5"/>
<path d="M670.4,195.6 Q672.7,197.3 674.7,194.9" fill="none" stroke="#0c0c0c" stroke-width="0.9"/>
<ellipse cx="684.3" cy="194.1" rx="2.7" ry="3.15" transform="rotate(-0 684.3 194.1)" fill="#fff" stroke="#0c0c0c" stroke-width="1.5"/>
<path d="M682.3,195.0 Q684.6,196.7 686.6,194.3" fill="none" stroke="#0c0c0c" stroke-width="0.9"/>
<ellipse cx="692.6" cy="197.9" rx="2.7" ry="3.15" transform="rotate(-0 692.6 197.9)" fill="#fff" stroke="#0c0c0c" stroke-width="1.5"/>
<path d="M690.6,198.8 Q692.9,200.5 694.9,198.1" fill="none" stroke="#0c0c0c" stroke-width="0.9"/>
<ellipse cx="703.5" cy="204.0" rx="2.7" ry="3.15" transform="rotate(-0 703.5 204.0)" fill="#fff" stroke="#0c0c0c" stroke-width="1.5"/>
<path d="M701.5,204.9 Q703.8,206.6 705.8,204.2" fill="none" stroke="#0c0c0c" stroke-width="0.9"/>
<ellipse cx="708.3" cy="207.8" rx="2.7" ry="3.15" transform="rotate(-0 708.3 207.8)" fill="#fff" stroke="#0c0c0c" stroke-width="1.5"/>
<path d="M706.3,208.7 Q708.6,210.4 710.6,208.0" fill="none" stroke="#0c0c0c" stroke-width="0.9"/>
<ellipse cx="721.0" cy="219.0" rx="2.7" ry="3.15" transform="rotate(-0 721.0 219.0)" fill="#fff" stroke="#0c0c0c" stroke-width="1.5"/>
<path d="M719.0,219.9 Q721.3,221.6 723.3,219.2" fill="none" stroke="#0c0c0c" stroke-width="0.9"/>
<ellipse cx="721.3" cy="224.9" rx="2.7" ry="3.15" transform="rotate(-0 721.3 224.9)" fill="#fff" stroke="#0c0c0c" stroke-width="1.5"/>
<path d="M719.3,225.8 Q721.6,227.5 723.6,225.1" fill="none" stroke="#0c0c0c" stroke-width="0.9"/>
<ellipse cx="716.7" cy="235.6" rx="2.7" ry="3.15" transform="rotate(-0 716.7 235.6)" fill="#fff" stroke="#0c0c0c" stroke-width="1.5"/>
<path d="M714.7,236.5 Q717.0,238.2 719.0,235.8" fill="none" stroke="#0c0c0c" stroke-width="0.9"/>
<ellipse cx="708.7" cy="242.9" rx="2.7" ry="3.15" transform="rotate(-0 708.7 242.9)" fill="#fff" stroke="#0c0c0c" stroke-width="1.5"/>
<path d="M706.7,243.8 Q709.0,245.5 711.0,243.1" fill="none" stroke="#0c0c0c" stroke-width="0.9"/>
<ellipse cx="704.8" cy="248.2" rx="2.7" ry="3.15" transform="rotate(-0 704.8 248.2)" fill="#fff" stroke="#0c0c0c" stroke-width="1.5"/>
<path d="M702.8,249.1 Q705.1,250.8 707.1,248.4" fill="none" stroke="#0c0c0c" stroke-width="0.9"/>
<ellipse cx="689.8" cy="256.0" rx="2.7" ry="3.15" transform="rotate(-0 689.8 256.0)" fill="#fff" stroke="#0c0c0c" stroke-width="1.5"/>
<path d="M687.8,256.9 Q690.1,258.6 692.1,256.2" fill="none" stroke="#0c0c0c" stroke-width="0.9"/>
<ellipse cx="682.5" cy="257.8" rx="2.7" ry="3.15" transform="rotate(-0 682.5 257.8)" fill="#fff" stroke="#0c0c0c" stroke-width="1.5"/>
<path d="M680.5,258.7 Q682.8,260.4 684.8,258.0" fill="none" stroke="#0c0c0c" stroke-width="0.9"/>
<ellipse cx="667.8" cy="262.1" rx="2.7" ry="3.15" transform="rotate(-0 667.8 262.1)" fill="#fff" stroke="#0c0c0c" stroke-width="1.5"/>
<path d="M665.8,263.0 Q668.1,264.7 670.1,262.3" fill="none" stroke="#0c0c0c" stroke-width="0.9"/>
<ellipse cx="652.2" cy="265.8" rx="2.7" ry="3.15" transform="rotate(-0 652.2 265.8)" fill="#fff" stroke="#0c0c0c" stroke-width="1.5"/>
<path d="M650.2,266.7 Q652.5,268.4 654.5,266.0" fill="none" stroke="#0c0c0c" stroke-width="0.9"/>
<ellipse cx="645.2" cy="264.1" rx="2.7" ry="3.15" transform="rotate(-0 645.2 264.1)" fill="#fff" stroke="#0c0c0c" stroke-width="1.5"/>
<path d="M643.2,265.0 Q645.5,266.7 647.5,264.3" fill="none" stroke="#0c0c0c" stroke-width="0.9"/>
<ellipse cx="627.4" cy="262.9" rx="2.7" ry="3.15" transform="rotate(-0 627.4 262.9)" fill="#fff" stroke="#0c0c0c" stroke-width="1.5"/>
<path d="M625.4,263.8 Q627.7,265.5 629.7,263.1" fill="none" stroke="#0c0c0c" stroke-width="0.9"/>
<ellipse cx="617.9" cy="258.5" rx="2.7" ry="3.15" transform="rotate(-0 617.9 258.5)" fill="#fff" stroke="#0c0c0c" stroke-width="1.5"/>
<path d="M615.9,259.4 Q618.2,261.1 620.2,258.7" fill="none" stroke="#0c0c0c" stroke-width="0.9"/>
<ellipse cx="613.2" cy="255.8" rx="2.7" ry="3.15" transform="rotate(-0 613.2 255.8)" fill="#fff" stroke="#0c0c0c" stroke-width="1.5"/>
<path d="M611.2,256.7 Q613.5,258.4 615.5,256.0" fill="none" stroke="#0c0c0c" stroke-width="0.9"/>
<ellipse cx="603.5" cy="247.3" rx="2.7" ry="3.15" transform="rotate(-0 603.5 247.3)" fill="#fff" stroke="#0c0c0c" stroke-width="1.5"/>
<path d="M601.5,248.2 Q603.8,249.9 605.8,247.5" fill="none" stroke="#0c0c0c" stroke-width="0.9"/>
<ellipse cx="599.9" cy="242.6" rx="2.7" ry="3.15" transform="rotate(-0 599.9 242.6)" fill="#fff" stroke="#0c0c0c" stroke-width="1.5"/>
<path d="M597.9,243.5 Q600.2,245.2 602.2,242.8" fill="none" stroke="#0c0c0c" stroke-width="0.9"/>
<ellipse cx="598.0" cy="234.6" rx="2.7" ry="3.15" transform="rotate(-0 598.0 234.6)" fill="#fff" stroke="#0c0c0c" stroke-width="1.5"/>
<path d="M596.0,235.5 Q598.3,237.2 600.3,234.8" fill="none" stroke="#0c0c0c" stroke-width="0.9"/>
<ellipse cx="601.1" cy="224.0" rx="2.7" ry="3.15" transform="rotate(-0 601.1 224.0)" fill="#fff" stroke="#0c0c0c" stroke-width="1.5"/>
<path d="M599.1,224.9 Q601.4,226.6 603.4,224.2" fill="none" stroke="#0c0c0c" stroke-width="0.9"/>
<ellipse cx="598.7" cy="220.6" rx="2.7" ry="3.15" transform="rotate(-0 598.7 220.6)" fill="#fff" stroke="#0c0c0c" stroke-width="1.5"/>
<path d="M596.7,221.5 Q599.0,223.2 601.0,220.8" fill="none" stroke="#0c0c0c" stroke-width="0.9"/>
<ellipse cx="608.7" cy="207.8" rx="2.7" ry="3.15" transform="rotate(-0 608.7 207.8)" fill="#fff" stroke="#0c0c0c" stroke-width="1.5"/>
<path d="M606.7,208.7 Q609.0,210.4 611.0,208.0" fill="none" stroke="#0c0c0c" stroke-width="0.9"/>
<ellipse cx="615.2" cy="202.8" rx="2.7" ry="3.15" transform="rotate(-0 615.2 202.8)" fill="#fff" stroke="#0c0c0c" stroke-width="1.5"/>
<path d="M613.2,203.7 Q615.5,205.4 617.5,203.0" fill="none" stroke="#0c0c0c" stroke-width="0.9"/>
<ellipse cx="631.6" cy="196.4" rx="2.7" ry="3.15" transform="rotate(-0 631.6 196.4)" fill="#fff" stroke="#0c0c0c" stroke-width="1.5"/>
<path d="M629.6,197.3 Q631.9,199.0 633.9,196.6" fill="none" stroke="#0c0c0c" stroke-width="0.9"/>
<ellipse cx="641.1" cy="190.9" rx="2.7" ry="3.15" transform="rotate(-0 641.1 190.9)" fill="#fff" stroke="#0c0c0c" stroke-width="1.5"/>
<path d="M639.1,191.8 Q641.4,193.5 643.4,191.1" fill="none" stroke="#0c0c0c" stroke-width="0.9"/>
<ellipse cx="653.7" cy="188.8" rx="2.7" ry="3.15" transform="rotate(-0 653.7 188.8)" fill="#fff" stroke="#0c0c0c" stroke-width="1.5"/>
<path d="M651.7,189.7 Q654.0,191.4 656.0,189.0" fill="none" stroke="#0c0c0c" stroke-width="0.9"/>
<ellipse cx="663.5" cy="188.0" rx="2.7" ry="3.15" transform="rotate(-0 663.5 188.0)" fill="#fff" stroke="#0c0c0c" stroke-width="1.5"/>
<path d="M661.5,188.9 Q663.8,190.6 665.8,188.2" fill="none" stroke="#0c0c0c" stroke-width="0.9"/>
<ellipse cx="675.4" cy="188.5" rx="2.7" ry="3.15" transform="rotate(-0 675.4 188.5)" fill="#fff" stroke="#0c0c0c" stroke-width="1.5"/>
<path d="M673.4,189.4 Q675.7,191.1 677.7,188.7" fill="none" stroke="#0c0c0c" stroke-width="0.9"/>
<ellipse cx="690.5" cy="189.7" rx="2.7" ry="3.15" transform="rotate(-0 690.5 189.7)" fill="#fff" stroke="#0c0c0c" stroke-width="1.5"/>
<path d="M688.5,190.6 Q690.8,192.3 692.8,189.9" fill="none" stroke="#0c0c0c" stroke-width="0.9"/>
<ellipse cx="701.6" cy="194.3" rx="2.7" ry="3.15" transform="rotate(-0 701.6 194.3)" fill="#fff" stroke="#0c0c0c" stroke-width="1.5"/>
<path d="M699.6,195.2 Q701.9,196.9 703.9,194.5" fill="none" stroke="#0c0c0c" stroke-width="0.9"/>
<ellipse cx="713.0" cy="198.0" rx="2.7" ry="3.15" transform="rotate(-0 713.0 198.0)" fill="#fff" stroke="#0c0c0c" stroke-width="1.5"/>
<path d="M711.0,198.9 Q713.3,200.6 715.3,198.2" fill="none" stroke="#0c0c0c" stroke-width="0.9"/>
<ellipse cx="720.3" cy="204.2" rx="2.7" ry="3.15" transform="rotate(-0 720.3 204.2)" fill="#fff" stroke="#0c0c0c" stroke-width="1.5"/>
<path d="M718.3,205.1 Q720.6,206.8 722.6,204.4" fill="none" stroke="#0c0c0c" stroke-width="0.9"/>
<ellipse cx="722.4" cy="211.9" rx="2.7" ry="3.15" transform="rotate(-0 722.4 211.9)" fill="#fff" stroke="#0c0c0c" stroke-width="1.5"/>
<path d="M720.4,212.8 Q722.7,214.5 724.7,212.1" fill="none" stroke="#0c0c0c" stroke-width="0.9"/>
<line x1="587.50" y1="134.50" x2="676.00" y2="112.40" stroke="#0c0c0c" stroke-width="1.1" stroke-linecap="butt"/>
<polygon points="613.90,127.90 603.93,133.44 602.50,127.61" fill="#0c0c0c"/>
<polygon points="649.40,119.00 659.37,113.46 660.80,119.29" fill="#0c0c0c"/>
<text x="605.00" y="118.10" font-size="14" text-anchor="start" font-weight="normal" stroke="#0c0c0c" stroke-width="0.28" textLength="36.3" lengthAdjust="spacingAndGlyphs">G 1/2</text>
<line x1="544.30" y1="186.00" x2="570.20" y2="277.00" stroke="#0c0c0c" stroke-width="1.1" stroke-linecap="butt"/>
<polygon points="543.90,184.80 549.53,194.68 543.93,196.18" fill="#0c0c0c"/>
<polygon points="558.60,238.40 552.97,228.52 558.57,227.02" fill="#0c0c0c"/>
<polygon points="563.30,253.40 568.93,263.28 563.33,264.78" fill="#0c0c0c"/>
<line x1="556.00" y1="240.00" x2="584.00" y2="233.60" stroke="#0c0c0c" stroke-width="1.1" stroke-linecap="butt"/>
<line x1="558.50" y1="254.00" x2="584.50" y2="246.20" stroke="#0c0c0c" stroke-width="1.1" stroke-linecap="butt"/>
<text x="531.00" y="218.80" font-size="13" text-anchor="start" font-weight="normal" stroke="#0c0c0c" stroke-width="0.28" textLength="17.5" lengthAdjust="spacingAndGlyphs">55</text>
<text x="542.30" y="255.00" font-size="13" text-anchor="start" font-weight="normal" stroke="#0c0c0c" stroke-width="0.28" textLength="14.0" lengthAdjust="spacingAndGlyphs">17</text>
<line x1="585.00" y1="243.75" x2="603.90" y2="310.50" stroke="#0c0c0c" stroke-width="1.1" stroke-linecap="butt"/>
<line x1="731.00" y1="217.50" x2="750.00" y2="271.50" stroke="#0c0c0c" stroke-width="1.1" stroke-linecap="butt"/>
<line x1="603.90" y1="303.80" x2="650.00" y2="292.70" stroke="#0c0c0c" stroke-width="1.1" stroke-linecap="butt"/>
<line x1="697.50" y1="280.20" x2="747.60" y2="267.50" stroke="#0c0c0c" stroke-width="1.1" stroke-linecap="butt"/>
<polygon points="603.90,303.80 614.86,298.06 616.27,303.89" fill="#0c0c0c"/>
<polygon points="747.60,267.50 736.68,273.31 735.23,267.49" fill="#0c0c0c"/>
<text x="653.50" y="292.70" font-size="14.5" text-anchor="start" font-weight="normal" stroke="#0c0c0c" stroke-width="0.28" textLength="41.5" lengthAdjust="spacingAndGlyphs">Ø 200</text>
<!-- c4 -->
<line x1="264.20" y1="254.50" x2="264.20" y2="318.00" stroke="#0c0c0c" stroke-width="1.45" stroke-linecap="butt"/>
<line x1="337.00" y1="294.30" x2="337.00" y2="394.50" stroke="#0c0c0c" stroke-width="1.45" stroke-linecap="butt"/>
<line x1="265.20" y1="260.00" x2="289.00" y2="273.60" stroke="#0c0c0c" stroke-width="1.45" stroke-linecap="butt"/>
<line x1="310.50" y1="286.00" x2="336.60" y2="300.90" stroke="#0c0c0c" stroke-width="1.45" stroke-linecap="butt"/>
<polygon points="264.90,259.80 277.77,263.49 274.59,269.04" fill="#0c0c0c"/>
<polygon points="336.80,301.00 323.93,297.31 327.11,291.76" fill="#0c0c0c"/>
<text x="290.40" y="289.00" font-size="16.5" text-anchor="start" font-weight="normal" stroke="#0c0c0c" stroke-width="0.28" textLength="18.0" lengthAdjust="spacingAndGlyphs">70</text>
<line x1="185.30" y1="388.00" x2="185.30" y2="483.00" stroke="#0c0c0c" stroke-width="1.45" stroke-linecap="butt"/>
<polygon points="185.30,380.00 188.50,393.00 182.10,393.00" fill="#0c0c0c"/>
<polygon points="185.30,490.60 182.10,477.60 188.50,477.60" fill="#0c0c0c"/>
<rect x="171.00" y="427.00" width="28.00" height="16.00" fill="#fff"/>
<text x="172.00" y="440.00" font-size="14.5" text-anchor="start" font-weight="normal" stroke="#0c0c0c" stroke-width="0.28" textLength="25.0" lengthAdjust="spacingAndGlyphs">100</text>
<ellipse cx="266.90" cy="382.20" rx="72.70" ry="43.50" transform="rotate(-61.00 266.90 382.20)" fill="#fff" stroke="#0c0c0c" stroke-width="2.05"/>
<ellipse cx="271.80" cy="384.25" rx="71.30" ry="40.80" transform="rotate(-62.70 271.80 384.25)" fill="#fff" stroke="#0c0c0c" stroke-width="1.9"/>
<line x1="178.30" y1="381.00" x2="258.00" y2="336.00" stroke="#0c0c0c" stroke-width="1.45" stroke-linecap="butt"/>
<line x1="178.30" y1="495.30" x2="277.00" y2="439.20" stroke="#0c0c0c" stroke-width="1.45" stroke-linecap="butt"/>
<path d="M320.6,410 V484 A6.4,6.4 0 0 0 333.4,484 V410" fill="#fff" stroke="#0c0c0c" stroke-width="2.05" stroke-linejoin="round" stroke-linecap="round" />
<path d="M273.50,415.20 C272.71,414.73 270.42,412.06 268.75,412.40 C267.08,412.74 264.44,415.57 263.50,417.25 C262.56,418.93 262.35,421.06 263.10,422.50 C263.85,423.94 266.68,425.07 268.00,425.90 C269.32,426.73 270.50,427.23 271.00,427.50" fill="#fff" stroke="#0c0c0c" stroke-width="1.8" stroke-linejoin="round" stroke-linecap="round" />
<path d="M277.00,414.25 L287.50,419.50 L290.50,424.75 L280.00,435.60 L278.50,435.25 L270.25,430.75 L270.25,430.75 C269.94,429.75 268.27,426.88 268.40,424.75 C268.52,422.62 269.57,419.75 271.00,418.00 C272.43,416.25 276.00,414.88 277.00,414.25 Z" fill="#fff" stroke="#0c0c0c" stroke-width="1.8" stroke-linejoin="round" stroke-linecap="round" />
<ellipse cx="283.75" cy="427.50" rx="9.00" ry="5.10" transform="rotate(-63.00 283.75 427.50)" fill="#fff" stroke="#0c0c0c" stroke-width="1.8"/>
<path d="M309.10,350.90 C307.67,349.72 303.52,345.92 300.50,343.80 C297.48,341.68 294.83,338.62 291.00,338.20 C287.17,337.78 281.82,338.60 277.50,341.30 C273.18,344.00 268.08,349.47 265.10,354.40 C262.12,359.33 260.17,365.87 259.60,370.90 C259.03,375.93 260.75,381.60 261.70,384.60 C262.65,387.60 264.70,388.18 265.30,388.90 L283,398.4 L287.8,401.1 L322,421.6 L350,385 L343.5,368.1 L320.1,356.8 Z" fill="#fff" stroke="#0c0c0c" stroke-width="0" stroke-linejoin="round" stroke-linecap="round" />
<path d="M309.10,350.90 C307.67,349.72 303.52,345.92 300.50,343.80 C297.48,341.68 294.83,338.62 291.00,338.20 C287.17,337.78 281.82,338.60 277.50,341.30 C273.18,344.00 268.08,349.47 265.10,354.40 C262.12,359.33 260.17,365.87 259.60,370.90 C259.03,375.93 260.75,381.60 261.70,384.60 C262.65,387.60 264.70,388.18 265.30,388.90 L283,398.4 L287.8,401.1 L322.5,421.9" fill="none" stroke="#0c0c0c" stroke-width="2.05" stroke-linejoin="round" stroke-linecap="round" />
<path d="M309.1,350.9 L320.1,356.8 L343.2,367.9" fill="none" stroke="#0c0c0c" stroke-width="2.05" stroke-linejoin="round" stroke-linecap="round" />
<path d="M309.10,350.90 C306.82,351.82 299.52,353.30 295.40,356.40 C291.28,359.50 286.92,364.80 284.40,369.50 C281.88,374.20 280.48,379.78 280.25,384.60 C280.02,389.42 282.54,396.10 283.00,398.40" fill="none" stroke="#0c0c0c" stroke-width="2.05" stroke-linejoin="round" stroke-linecap="round" />
<path d="M320.10,356.80 C317.58,357.54 309.81,358.45 305.00,361.25 C300.19,364.05 294.42,369.02 291.25,373.60 C288.08,378.18 286.57,384.17 286.00,388.75 C285.43,393.33 287.50,399.04 287.80,401.10" fill="none" stroke="#0c0c0c" stroke-width="2.05" stroke-linejoin="round" stroke-linecap="round" />
<ellipse cx="333.40" cy="395.30" rx="29.40" ry="16.60" transform="rotate(-61.00 333.40 395.30)" fill="#fff" stroke="#0c0c0c" stroke-width="2.05"/>
<line x1="337.00" y1="370.00" x2="337.00" y2="394.50" stroke="#0c0c0c" stroke-width="1.45" stroke-linecap="butt"/>
<line x1="304.30" y1="378.40" x2="374.50" y2="418.80" stroke="#0c0c0c" stroke-width="1.45" stroke-linecap="butt" stroke-dasharray="10 2 2 2"/>
<line x1="333.60" y1="491.50" x2="387.00" y2="523.00" stroke="#0c0c0c" stroke-width="1.45" stroke-linecap="butt"/>
<line x1="382.30" y1="496.00" x2="382.30" y2="512.00" stroke="#0c0c0c" stroke-width="1.45" stroke-linecap="butt"/>
<polygon points="382.30,521.00 379.30,509.00 385.30,509.00" fill="#0c0c0c"/>
<path d="M375.5,464.8 Q372.3,465.5 373.2,468 Q373.8,469.6 375.5,470.2 Q372.0,471 372.6,474 Q373.2,476.3 375.8,476.6" fill="none" stroke="#0c0c0c" stroke-width="1.3" stroke-linejoin="round" stroke-linecap="round" />
<!-- c5 -->
<line x1="390.60" y1="318.70" x2="448.40" y2="318.70" stroke="#0c0c0c" stroke-width="0.95" stroke-linecap="butt"/>
<line x1="390.60" y1="396.80" x2="448.40" y2="396.80" stroke="#0c0c0c" stroke-width="0.95" stroke-linecap="butt"/>
<line x1="390.60" y1="318.70" x2="390.60" y2="396.80" stroke="#0c0c0c" stroke-width="0.95" stroke-linecap="butt"/>
<rect x="374.00" y="352.00" width="26.00" height="13.00" fill="#fff"/>
<text x="375.80" y="363.00" font-size="10" text-anchor="start" font-weight="normal" stroke="#0c0c0c" stroke-width="0.28" textLength="22.0" lengthAdjust="spacingAndGlyphs">Ø 55</text>
<line x1="426.40" y1="313.75" x2="543.30" y2="313.75" stroke="#0c0c0c" stroke-width="0.95" stroke-linecap="butt"/>
<line x1="426.40" y1="313.75" x2="426.40" y2="341.80" stroke="#0c0c0c" stroke-width="0.95" stroke-linecap="butt"/>
<line x1="543.00" y1="313.75" x2="543.00" y2="433.00" stroke="#0c0c0c" stroke-width="0.95" stroke-linecap="butt"/>
<rect x="478.00" y="308.00" width="14.00" height="11.00" fill="#fff"/>
<text x="485.00" y="317.40" font-size="10" text-anchor="middle" font-weight="normal" stroke="#0c0c0c" stroke-width="0.28" textLength="11.0" lengthAdjust="spacingAndGlyphs">69</text>
<rect x="426.40" y="341.80" width="22.00" height="33.80" rx="0" fill="#848484" stroke="#0c0c0c" stroke-width="0.8"/>
<line x1="426.40" y1="341.80" x2="426.40" y2="375.60" stroke="#6a6a6a" stroke-width="1.0" stroke-linecap="butt"/>
<line x1="428.84" y1="341.80" x2="428.84" y2="375.60" stroke="#4a4a4a" stroke-width="1.0" stroke-linecap="butt"/>
<line x1="431.29" y1="341.80" x2="431.29" y2="375.60" stroke="#3c3c3c" stroke-width="1.0" stroke-linecap="butt"/>
<line x1="433.73" y1="341.80" x2="433.73" y2="375.60" stroke="#4a4a4a" stroke-width="1.0" stroke-linecap="butt"/>
<line x1="436.18" y1="341.80" x2="436.18" y2="375.60" stroke="#5c5c5c" stroke-width="1.0" stroke-linecap="butt"/>
<line x1="438.62" y1="341.80" x2="438.62" y2="375.60" stroke="#5c5c5c" stroke-width="1.0" stroke-linecap="butt"/>
<line x1="441.07" y1="341.80" x2="441.07" y2="375.60" stroke="#5c5c5c" stroke-width="1.0" stroke-linecap="butt"/>
<line x1="443.51" y1="341.80" x2="443.51" y2="375.60" stroke="#5c5c5c" stroke-width="1.0" stroke-linecap="butt"/>
<line x1="445.96" y1="341.80" x2="445.96" y2="375.60" stroke="#6a6a6a" stroke-width="1.0" stroke-linecap="butt"/>
<line x1="448.40" y1="341.80" x2="448.40" y2="375.60" stroke="#4a4a4a" stroke-width="1.0" stroke-linecap="butt"/>
<line x1="411.00" y1="341.80" x2="426.40" y2="341.80" stroke="#0c0c0c" stroke-width="0.95" stroke-linecap="butt"/>
<line x1="411.00" y1="375.60" x2="426.40" y2="375.60" stroke="#0c0c0c" stroke-width="0.95" stroke-linecap="butt"/>
<line x1="411.00" y1="341.80" x2="411.00" y2="375.60" stroke="#0c0c0c" stroke-width="0.95" stroke-linecap="butt"/>
<text x="421.20" y="358.50" font-size="9.5" text-anchor="middle" font-weight="normal" stroke="#0c0c0c" stroke-width="0.28" textLength="21.0" lengthAdjust="spacingAndGlyphs" transform="rotate(-90 421.20 358.50)">G1/2</text>
<rect x="448.40" y="318.70" width="18.40" height="78.10" rx="0" fill="#fff" stroke="#0c0c0c" stroke-width="1.85"/>
<path d="M466.8,336.6 H563.3 Q565,358.5 563.3,380.4 H515.5 C509,380.4 506,371.6 496.5,371.6 C487,371.6 484,380.4 477.8,380.4 H466.8" fill="#fff" stroke="#0c0c0c" stroke-width="1.85" stroke-linejoin="round" stroke-linecap="round" />
<line x1="561.60" y1="336.60" x2="561.60" y2="380.40" stroke="#0c0c0c" stroke-width="1.0" stroke-linecap="butt"/>
<rect x="480.00" y="380.60" width="34.00" height="19.20" rx="0" fill="#848484" stroke="#0c0c0c" stroke-width="0.8"/>
<line x1="480.00" y1="380.60" x2="514.00" y2="380.60" stroke="#4a4a4a" stroke-width="1.0" stroke-linecap="butt"/>
<line x1="480.00" y1="383.00" x2="514.00" y2="383.00" stroke="#4a4a4a" stroke-width="1.0" stroke-linecap="butt"/>
<line x1="480.00" y1="385.40" x2="514.00" y2="385.40" stroke="#4a4a4a" stroke-width="1.0" stroke-linecap="butt"/>
<line x1="480.00" y1="387.80" x2="514.00" y2="387.80" stroke="#3c3c3c" stroke-width="1.0" stroke-linecap="butt"/>
<line x1="480.00" y1="390.20" x2="514.00" y2="390.20" stroke="#6a6a6a" stroke-width="1.0" stroke-linecap="butt"/>
<line x1="480.00" y1="392.60" x2="514.00" y2="392.60" stroke="#3c3c3c" stroke-width="1.0" stroke-linecap="butt"/>
<line x1="480.00" y1="395.00" x2="514.00" y2="395.00" stroke="#3c3c3c" stroke-width="1.0" stroke-linecap="butt"/>
<line x1="480.00" y1="397.40" x2="514.00" y2="397.40" stroke="#6a6a6a" stroke-width="1.0" stroke-linecap="butt"/>
<line x1="480.00" y1="399.80" x2="514.00" y2="399.80" stroke="#4a4a4a" stroke-width="1.0" stroke-linecap="butt"/>
<line x1="479.50" y1="399.90" x2="479.50" y2="412.40" stroke="#0c0c0c" stroke-width="0.95" stroke-linecap="butt"/>
<line x1="514.50" y1="399.90" x2="514.50" y2="412.40" stroke="#0c0c0c" stroke-width="0.95" stroke-linecap="butt"/>
<line x1="479.50" y1="412.40" x2="514.50" y2="412.40" stroke="#0c0c0c" stroke-width="0.95" stroke-linecap="butt"/>
<text x="496.70" y="409.60" font-size="9.8" text-anchor="middle" font-weight="normal" stroke="#0c0c0c" stroke-width="0.28" textLength="24.0" lengthAdjust="spacingAndGlyphs">G 1/2</text>
<line x1="532.30" y1="358.40" x2="551.50" y2="358.40" stroke="#0c0c0c" stroke-width="0.95" stroke-linecap="butt"/>
<line x1="564.00" y1="336.60" x2="588.00" y2="336.60" stroke="#0c0c0c" stroke-width="0.95" stroke-linecap="butt"/>
<line x1="564.00" y1="380.40" x2="588.00" y2="380.40" stroke="#0c0c0c" stroke-width="0.95" stroke-linecap="butt"/>
<line x1="585.30" y1="336.60" x2="585.30" y2="380.40" stroke="#0c0c0c" stroke-width="0.95" stroke-linecap="butt"/>
<rect x="569.00" y="352.00" width="24.00" height="13.00" fill="#fff"/>
<text x="570.20" y="363.00" font-size="10" text-anchor="start" font-weight="normal" stroke="#0c0c0c" stroke-width="0.28" textLength="22.0" lengthAdjust="spacingAndGlyphs">Ø 26</text>
<rect x="426.30" y="438.00" width="22.00" height="34.50" rx="0" fill="#848484" stroke="#0c0c0c" stroke-width="0.8"/>
<line x1="426.30" y1="438.00" x2="426.30" y2="472.50" stroke="#6a6a6a" stroke-width="1.0" stroke-linecap="butt"/>
<line x1="428.74" y1="438.00" x2="428.74" y2="472.50" stroke="#6a6a6a" stroke-width="1.0" stroke-linecap="butt"/>
<line x1="431.19" y1="438.00" x2="431.19" y2="472.50" stroke="#3c3c3c" stroke-width="1.0" stroke-linecap="butt"/>
<line x1="433.63" y1="438.00" x2="433.63" y2="472.50" stroke="#5c5c5c" stroke-width="1.0" stroke-linecap="butt"/>
<line x1="436.08" y1="438.00" x2="436.08" y2="472.50" stroke="#4a4a4a" stroke-width="1.0" stroke-linecap="butt"/>
<line x1="438.52" y1="438.00" x2="438.52" y2="472.50" stroke="#4a4a4a" stroke-width="1.0" stroke-linecap="butt"/>
<line x1="440.97" y1="438.00" x2="440.97" y2="472.50" stroke="#5c5c5c" stroke-width="1.0" stroke-linecap="butt"/>
<line x1="443.41" y1="438.00" x2="443.41" y2="472.50" stroke="#3c3c3c" stroke-width="1.0" stroke-linecap="butt"/>
<line x1="445.86" y1="438.00" x2="445.86" y2="472.50" stroke="#6a6a6a" stroke-width="1.0" stroke-linecap="butt"/>
<line x1="448.30" y1="438.00" x2="448.30" y2="472.50" stroke="#6a6a6a" stroke-width="1.0" stroke-linecap="butt"/>
<line x1="440.00" y1="472.50" x2="440.00" y2="478.00" stroke="#0c0c0c" stroke-width="0.95" stroke-linecap="butt"/>
<rect x="448.30" y="418.75" width="18.70" height="70.50" rx="0" fill="#fff" stroke="#0c0c0c" stroke-width="1.85"/>
<rect x="467.00" y="433.25" width="97.40" height="44.25" rx="0" fill="#fff" stroke="#0c0c0c" stroke-width="1.85"/>
<line x1="562.40" y1="433.25" x2="562.40" y2="477.50" stroke="#0c0c0c" stroke-width="1.0" stroke-linecap="butt"/>
<path d="M524.3,489 V473.5 Q524.3,471.5 525.07,471.5 A19.3,19.3 0 1 1 556.93,471.5 Q555.6,471.5 555.6,473.5 V489" fill="#fff" stroke="#0c0c0c" stroke-width="1.9" stroke-linejoin="round" stroke-linecap="round" />
<rect x="525.50" y="476.00" width="29.00" height="14.00" fill="#fff"/>
<line x1="543.00" y1="432.00" x2="543.00" y2="466.30" stroke="#0c0c0c" stroke-width="0.95" stroke-linecap="butt"/>
<line x1="537.30" y1="459.30" x2="548.20" y2="459.30" stroke="#0c0c0c" stroke-width="0.95" stroke-linecap="butt"/>
<line x1="524.30" y1="487.00" x2="535.00" y2="487.00" stroke="#0c0c0c" stroke-width="1.2" stroke-linecap="butt"/>
<line x1="547.00" y1="487.00" x2="555.60" y2="487.00" stroke="#0c0c0c" stroke-width="1.2" stroke-linecap="butt"/>
<text x="540.80" y="490.50" font-size="9.8" text-anchor="middle" font-weight="normal" stroke="#0c0c0c" stroke-width="0.55" textLength="10.0" lengthAdjust="spacingAndGlyphs">17</text>
<!-- c6 -->
<path d="M208.75,576.00 C217.92,575.78 226.25,577.88 235.00,581.50 C243.75,585.12 252.75,591.33 261.25,597.75 C269.75,604.17 279.75,613.04 286.00,620.00 C292.25,626.96 295.75,632.00 298.75,639.50 C301.75,647.00 303.62,656.58 304.00,665.00 C304.38,673.42 303.08,682.33 301.00,690.00 C298.92,697.67 295.58,704.33 291.50,711.00 C287.42,717.67 283.07,723.83 276.50,730.00 C269.93,736.17 260.55,743.47 252.10,748.00 C243.65,752.53 234.48,755.24 225.80,757.20 C217.12,759.16 208.67,760.18 200.00,759.75 C191.33,759.32 182.58,758.08 173.80,754.60 C165.02,751.12 155.17,745.35 147.30,738.90 C139.43,732.45 131.78,721.77 126.60,715.90 C121.42,710.03 118.63,709.52 116.20,703.70 C113.77,697.88 112.55,687.98 112.00,681.00 C111.45,674.02 111.45,668.90 112.90,661.80 C114.35,654.70 116.78,646.22 120.70,638.40 C124.62,630.58 130.43,621.92 136.40,614.90 C142.37,607.88 149.23,601.65 156.50,596.30 C163.77,590.95 171.29,586.18 180.00,582.80 C188.71,579.42 199.58,576.22 208.75,576.00 Z" fill="none" stroke="#0c0c0c" stroke-width="10.9" stroke-linejoin="round" stroke-linecap="butt" />
<path d="M208.75,576.00 C217.92,575.78 226.25,577.88 235.00,581.50 C243.75,585.12 252.75,591.33 261.25,597.75 C269.75,604.17 279.75,613.04 286.00,620.00 C292.25,626.96 295.75,632.00 298.75,639.50 C301.75,647.00 303.62,656.58 304.00,665.00 C304.38,673.42 303.08,682.33 301.00,690.00 C298.92,697.67 295.58,704.33 291.50,711.00 C287.42,717.67 283.07,723.83 276.50,730.00 C269.93,736.17 260.55,743.47 252.10,748.00 C243.65,752.53 234.48,755.24 225.80,757.20 C217.12,759.16 208.67,760.18 200.00,759.75 C191.33,759.32 182.58,758.08 173.80,754.60 C165.02,751.12 155.17,745.35 147.30,738.90 C139.43,732.45 131.78,721.77 126.60,715.90 C121.42,710.03 118.63,709.52 116.20,703.70 C113.77,697.88 112.55,687.98 112.00,681.00 C111.45,674.02 111.45,668.90 112.90,661.80 C114.35,654.70 116.78,646.22 120.70,638.40 C124.62,630.58 130.43,621.92 136.40,614.90 C142.37,607.88 149.23,601.65 156.50,596.30 C163.77,590.95 171.29,586.18 180.00,582.80 C188.71,579.42 199.58,576.22 208.75,576.00 Z" fill="none" stroke="#fff" stroke-width="7.800000000000001" stroke-linejoin="round" stroke-linecap="butt" />
<path d="M101.70,572.00 C101.55,576.67 100.60,587.83 100.80,600.00 C101.00,612.17 101.95,633.33 102.90,645.00 C103.85,656.67 105.03,662.50 106.50,670.00 C107.97,677.50 108.46,681.50 111.75,690.00 C115.04,698.50 119.88,710.92 126.25,721.00 C132.62,731.08 141.88,743.48 150.00,750.50 C158.12,757.52 166.67,760.43 175.00,763.10 C183.33,765.77 191.67,766.39 200.00,766.50 C208.33,766.61 216.67,765.68 225.00,763.75 C233.33,761.82 241.67,759.48 250.00,754.90 C258.33,750.32 268.12,742.90 275.00,736.25 C281.88,729.60 286.92,722.04 291.25,715.00 C295.58,707.96 298.59,700.50 301.00,694.00 C303.41,687.50 304.27,683.83 305.70,676.00 C307.13,668.17 308.76,656.33 309.60,647.00 C310.44,637.67 310.93,632.17 310.75,620.00 C310.57,607.83 308.88,581.67 308.50,574.00" fill="none" stroke="#0c0c0c" stroke-width="10.9" stroke-linejoin="round" stroke-linecap="butt" />
<path d="M101.70,572.00 C101.55,576.67 100.60,587.83 100.80,600.00 C101.00,612.17 101.95,633.33 102.90,645.00 C103.85,656.67 105.03,662.50 106.50,670.00 C107.97,677.50 108.46,681.50 111.75,690.00 C115.04,698.50 119.88,710.92 126.25,721.00 C132.62,731.08 141.88,743.48 150.00,750.50 C158.12,757.52 166.67,760.43 175.00,763.10 C183.33,765.77 191.67,766.39 200.00,766.50 C208.33,766.61 216.67,765.68 225.00,763.75 C233.33,761.82 241.67,759.48 250.00,754.90 C258.33,750.32 268.12,742.90 275.00,736.25 C281.88,729.60 286.92,722.04 291.25,715.00 C295.58,707.96 298.59,700.50 301.00,694.00 C303.41,687.50 304.27,683.83 305.70,676.00 C307.13,668.17 308.76,656.33 309.60,647.00 C310.44,637.67 310.93,632.17 310.75,620.00 C310.57,607.83 308.88,581.67 308.50,574.00" fill="none" stroke="#fff" stroke-width="7.800000000000001" stroke-linejoin="round" stroke-linecap="butt" />
<path d="M261.25,597.75 C269.75,604.17 279.75,613.04 286.00,620.00 C292.25,626.96 295.75,632.00 298.75,639.50 C301.75,647.00 303.62,656.58 304.00,665.00 C304.38,673.42 303.08,682.33 301.00,690.00 C298.92,697.67 295.58,704.33 291.50,711.00 C287.42,717.67 283.07,723.83 276.50,730.00" fill="none" stroke="#0c0c0c" stroke-width="10.9" stroke-linejoin="round" stroke-linecap="butt" />
<path d="M260.05,596.85 L261.25,597.75 C269.75,604.17 279.75,613.04 286.00,620.00 C292.25,626.96 295.75,632.00 298.75,639.50 C301.75,647.00 303.62,656.58 304.00,665.00 C304.38,673.42 303.08,682.33 301.00,690.00 C298.92,697.67 295.58,704.33 291.50,711.00 C287.42,717.67 283.07,723.83 276.50,730.00 L275.41,731.03" fill="none" stroke="#fff" stroke-width="7.800000000000001" stroke-linejoin="round" stroke-linecap="butt" />
<path d="M93.2,551 L96.4,572.2 H107 L109.8,551 Z" fill="#fff" stroke="#0c0c0c" stroke-width="1.8" stroke-linejoin="round" stroke-linecap="round" />
<ellipse cx="101.50" cy="551.00" rx="8.30" ry="2.10" transform="rotate(0.00 101.50 551.00)" fill="#fff" stroke="#0c0c0c" stroke-width="1.8"/>
<path d="M298.2,554.2 L303.2,574 L313.8,573.6 L314.9,552.6 Z" fill="#fff" stroke="#0c0c0c" stroke-width="1.8" stroke-linejoin="round" stroke-linecap="round" />
<ellipse cx="306.50" cy="553.40" rx="8.35" ry="2.20" transform="rotate(-5.00 306.50 553.40)" fill="#fff" stroke="#0c0c0c" stroke-width="1.8"/>
<line x1="92.40" y1="530.00" x2="92.40" y2="547.00" stroke="#0c0c0c" stroke-width="1.8" stroke-linecap="butt"/>
<line x1="109.80" y1="530.00" x2="109.80" y2="547.00" stroke="#0c0c0c" stroke-width="1.8" stroke-linecap="butt"/>
<line x1="69.00" y1="540.00" x2="83.00" y2="540.00" stroke="#0c0c0c" stroke-width="1.9" stroke-linecap="butt"/>
<polygon points="90.30,540.00 81.80,543.00 81.80,537.00" fill="#0c0c0c"/>
<polygon points="116.50,540.00 125.00,537.00 125.00,543.00" fill="#0c0c0c"/>
<line x1="124.00" y1="540.00" x2="138.00" y2="540.00" stroke="#0c0c0c" stroke-width="1.9" stroke-linecap="butt"/>
<text x="122.00" y="533.00" font-size="14.5" text-anchor="start" font-weight="normal" stroke="#0c0c0c" stroke-width="0.28" textLength="28.0" lengthAdjust="spacingAndGlyphs">G ½</text>
<line x1="294.70" y1="535.50" x2="296.80" y2="552.00" stroke="#0c0c0c" stroke-width="1.7" stroke-linecap="butt"/>
<line x1="313.30" y1="534.80" x2="314.80" y2="551.20" stroke="#0c0c0c" stroke-width="1.7" stroke-linecap="butt"/>
<line x1="274.75" y1="546.75" x2="288.00" y2="546.05" stroke="#0c0c0c" stroke-width="1.8" stroke-linecap="butt"/>
<polygon points="295.20,545.70 286.87,549.14 286.55,543.15" fill="#0c0c0c"/>
<polygon points="315.30,541.50 323.63,538.06 323.95,544.05" fill="#0c0c0c"/>
<line x1="322.50" y1="541.10" x2="340.00" y2="540.10" stroke="#0c0c0c" stroke-width="1.8" stroke-linecap="butt"/>
<text x="259.80" y="538.50" font-size="14.5" text-anchor="start" font-weight="normal" stroke="#0c0c0c" stroke-width="0.28" textLength="29.0" lengthAdjust="spacingAndGlyphs">G ½</text>
<!-- c7 -->
<line x1="492.00" y1="530.00" x2="530.30" y2="621.00" stroke="#0c0c0c" stroke-width="1.1" stroke-linecap="butt"/>
<line x1="345.00" y1="680.30" x2="410.20" y2="614.90" stroke="#0c0c0c" stroke-width="1.1" stroke-linecap="butt"/>
<line x1="427.90" y1="597.60" x2="492.00" y2="530.00" stroke="#0c0c0c" stroke-width="1.1" stroke-linecap="butt"/>
<polygon points="345.20,680.10 351.58,668.86 356.30,673.47" fill="#0c0c0c"/>
<polygon points="491.80,530.20 485.42,541.44 480.70,536.83" fill="#0c0c0c"/>
<text x="406.40" y="611.60" font-size="14" text-anchor="start" font-weight="normal" stroke="#0c0c0c" stroke-width="0.28" textLength="23.4" lengthAdjust="spacingAndGlyphs">224</text>
<path d="M361.6,746.6 C363.4,753.6 369.6,760.4 377.8,763.2" fill="none" stroke="#161616" stroke-width="7.0" stroke-linejoin="round" stroke-linecap="butt" />
<path d="M448.6,655 L440,666.8 L366.4,738.7 Q362.2,742.6 363.3,745.6 C366,751.2 372,757.2 379,760.3 Q381.6,761.2 383.6,759.0 L470,678.5 L480,640 Z" fill="#fff" stroke="#0c0c0c" stroke-width="1.8" stroke-linejoin="round" stroke-linecap="round" />
<line x1="367.50" y1="743.75" x2="344.20" y2="681.50" stroke="#0c0c0c" stroke-width="1.1" stroke-linecap="butt"/>
<path d="M449.75,657.50 C449.51,656.25 448.55,652.33 448.30,650.00 C448.05,647.67 447.76,646.83 448.25,643.50 C448.74,640.17 448.88,634.00 451.25,630.00 C453.62,626.00 457.88,622.12 462.50,619.50 C467.12,616.88 472.75,615.38 479.00,614.25 C485.25,613.12 493.25,612.50 500.00,612.75 C506.75,613.00 513.50,614.00 519.50,615.75 C525.50,617.50 531.75,620.38 536.00,623.25 C540.25,626.12 543.12,629.62 545.00,633.00 C546.88,636.38 547.25,640.25 547.25,643.50 C547.25,646.75 545.38,651.00 545.00,652.50 L497,686 Z" fill="#fff" stroke="#0c0c0c" stroke-width="0" stroke-linejoin="round" stroke-linecap="round" />
<path d="M449.75,657.50 C449.51,656.25 448.55,652.33 448.30,650.00 C448.05,647.67 447.76,646.83 448.25,643.50 C448.74,640.17 448.88,634.00 451.25,630.00 C453.62,626.00 457.88,622.12 462.50,619.50 C467.12,616.88 472.75,615.38 479.00,614.25 C485.25,613.12 493.25,612.50 500.00,612.75 C506.75,613.00 513.50,614.00 519.50,615.75 C525.50,617.50 531.75,620.38 536.00,623.25 C540.25,626.12 543.12,629.62 545.00,633.00 C546.88,636.38 547.25,640.25 547.25,643.50 C547.25,646.75 545.38,651.00 545.00,652.50" fill="none" stroke="#0c0c0c" stroke-width="1.7" stroke-linejoin="round" stroke-linecap="round" />
<ellipse cx="497.40" cy="658.50" rx="47.90" ry="27.70" transform="rotate(-4.00 497.40 658.50)" fill="#fff" stroke="#0c0c0c" stroke-width="1.7"/>
<path d="M509.4,664.5 Q509.7,667.0 511.1,667.0 Q512.5,667.0 512.8,664.5" fill="none" stroke="#0c0c0c" stroke-width="1.8" stroke-linecap="round"/>
<path d="M515.6,664.8 Q515.9,667.3 517.3,667.3 Q518.7,667.3 519.0,664.8" fill="none" stroke="#0c0c0c" stroke-width="1.8" stroke-linecap="round"/>
<path d="M521.8,665.0 Q522.1,667.5 523.5,667.5 Q524.9,667.5 525.2,665.0" fill="none" stroke="#0c0c0c" stroke-width="1.8" stroke-linecap="round"/>
<path d="M528.0,665.2 Q528.3,667.7 529.7,667.7 Q531.1,667.7 531.4,665.2" fill="none" stroke="#0c0c0c" stroke-width="1.8" stroke-linecap="round"/>
<path d="M534.2,665.5 Q534.5,668.0 535.9,668.0 Q537.3,668.0 537.6,665.5" fill="none" stroke="#0c0c0c" stroke-width="1.8" stroke-linecap="round"/>
<path d="M513.1,668.3 Q513.4,670.8 514.8,670.8 Q516.2,670.8 516.5,668.3" fill="none" stroke="#0c0c0c" stroke-width="1.8" stroke-linecap="round"/>
<path d="M518.8,669.7 Q519.1,672.2 520.5,672.2 Q521.9,672.2 522.2,669.7" fill="none" stroke="#0c0c0c" stroke-width="1.8" stroke-linecap="round"/>
<path d="M524.5,671.0 Q524.8,673.5 526.2,673.5 Q527.6,673.5 527.9,671.0" fill="none" stroke="#0c0c0c" stroke-width="1.8" stroke-linecap="round"/>
<path d="M530.2,672.4 Q530.5,674.9 531.9,674.9 Q533.3,674.9 533.6,672.4" fill="none" stroke="#0c0c0c" stroke-width="1.8" stroke-linecap="round"/>
<path d="M505.4,669.3 Q505.7,671.8 507.1,671.8 Q508.5,671.8 508.8,669.3" fill="none" stroke="#0c0c0c" stroke-width="1.8" stroke-linecap="round"/>
<path d="M509.9,671.7 Q510.2,674.2 511.6,674.2 Q513.0,674.2 513.3,671.7" fill="none" stroke="#0c0c0c" stroke-width="1.8" stroke-linecap="round"/>
<path d="M514.4,674.0 Q514.7,676.5 516.1,676.5 Q517.5,676.5 517.8,674.0" fill="none" stroke="#0c0c0c" stroke-width="1.8" stroke-linecap="round"/>
<path d="M518.9,676.3 Q519.2,678.8 520.6,678.8 Q522.0,678.8 522.3,676.3" fill="none" stroke="#0c0c0c" stroke-width="1.8" stroke-linecap="round"/>
<path d="M503.9,673.5 Q504.2,676.0 505.6,676.0 Q507.0,676.0 507.3,673.5" fill="none" stroke="#0c0c0c" stroke-width="1.8" stroke-linecap="round"/>
<path d="M506.6,676.5 Q506.9,679.0 508.3,679.0 Q509.7,679.0 510.0,676.5" fill="none" stroke="#0c0c0c" stroke-width="1.8" stroke-linecap="round"/>
<path d="M509.3,679.6 Q509.6,682.1 511.0,682.1 Q512.4,682.1 512.7,679.6" fill="none" stroke="#0c0c0c" stroke-width="1.8" stroke-linecap="round"/>
<path d="M496.8,671.6 Q497.1,674.1 498.5,674.1 Q499.9,674.1 500.2,671.6" fill="none" stroke="#0c0c0c" stroke-width="1.8" stroke-linecap="round"/>
<path d="M497.4,675.0 Q497.7,677.5 499.1,677.5 Q500.5,677.5 500.8,675.0" fill="none" stroke="#0c0c0c" stroke-width="1.8" stroke-linecap="round"/>
<path d="M498.1,678.3 Q498.4,680.8 499.8,680.8 Q501.2,680.8 501.5,678.3" fill="none" stroke="#0c0c0c" stroke-width="1.8" stroke-linecap="round"/>
<path d="M498.7,681.7 Q499.0,684.2 500.4,684.2 Q501.8,684.2 502.1,681.7" fill="none" stroke="#0c0c0c" stroke-width="1.8" stroke-linecap="round"/>
<path d="M490.6,674.3 Q490.9,676.8 492.3,676.8 Q493.7,676.8 494.0,674.3" fill="none" stroke="#0c0c0c" stroke-width="1.8" stroke-linecap="round"/>
<path d="M489.1,677.5 Q489.4,680.0 490.8,680.0 Q492.2,680.0 492.5,677.5" fill="none" stroke="#0c0c0c" stroke-width="1.8" stroke-linecap="round"/>
<path d="M487.6,680.8 Q487.9,683.3 489.3,683.3 Q490.7,683.3 491.0,680.8" fill="none" stroke="#0c0c0c" stroke-width="1.8" stroke-linecap="round"/>
<path d="M487.4,670.3 Q487.7,672.8 489.1,672.8 Q490.5,672.8 490.8,670.3" fill="none" stroke="#0c0c0c" stroke-width="1.8" stroke-linecap="round"/>
<path d="M483.9,673.1 Q484.2,675.6 485.6,675.6 Q487.0,675.6 487.3,673.1" fill="none" stroke="#0c0c0c" stroke-width="1.8" stroke-linecap="round"/>
<path d="M480.4,675.9 Q480.7,678.4 482.1,678.4 Q483.5,678.4 483.8,675.9" fill="none" stroke="#0c0c0c" stroke-width="1.8" stroke-linecap="round"/>
<path d="M477.0,678.7 Q477.3,681.2 478.7,681.2 Q480.1,681.2 480.4,678.7" fill="none" stroke="#0c0c0c" stroke-width="1.8" stroke-linecap="round"/>
<path d="M479.5,670.2 Q479.8,672.7 481.2,672.7 Q482.6,672.7 482.9,670.2" fill="none" stroke="#0c0c0c" stroke-width="1.8" stroke-linecap="round"/>
<path d="M474.5,672.2 Q474.8,674.7 476.2,674.7 Q477.6,674.7 477.9,672.2" fill="none" stroke="#0c0c0c" stroke-width="1.8" stroke-linecap="round"/>
<path d="M469.4,674.2 Q469.7,676.7 471.1,676.7 Q472.5,676.7 472.8,674.2" fill="none" stroke="#0c0c0c" stroke-width="1.8" stroke-linecap="round"/>
<path d="M481.7,666.1 Q482.0,668.6 483.4,668.6 Q484.8,668.6 485.1,666.1" fill="none" stroke="#0c0c0c" stroke-width="1.8" stroke-linecap="round"/>
<path d="M475.8,667.0 Q476.1,669.5 477.5,669.5 Q478.9,669.5 479.2,667.0" fill="none" stroke="#0c0c0c" stroke-width="1.8" stroke-linecap="round"/>
<path d="M469.8,668.0 Q470.1,670.5 471.5,670.5 Q472.9,670.5 473.2,668.0" fill="none" stroke="#0c0c0c" stroke-width="1.8" stroke-linecap="round"/>
<path d="M463.8,668.9 Q464.1,671.4 465.5,671.4 Q466.9,671.4 467.2,668.9" fill="none" stroke="#0c0c0c" stroke-width="1.8" stroke-linecap="round"/>
<path d="M457.8,669.8 Q458.1,672.3 459.5,672.3 Q460.9,672.3 461.2,669.8" fill="none" stroke="#0c0c0c" stroke-width="1.8" stroke-linecap="round"/>
<path d="M475.8,663.3 Q476.1,665.8 477.5,665.8 Q478.9,665.8 479.2,663.3" fill="none" stroke="#0c0c0c" stroke-width="1.8" stroke-linecap="round"/>
<path d="M469.6,663.0 Q469.9,665.5 471.3,665.5 Q472.7,665.5 473.0,663.0" fill="none" stroke="#0c0c0c" stroke-width="1.8" stroke-linecap="round"/>
<path d="M463.4,662.8 Q463.7,665.3 465.1,665.3 Q466.5,665.3 466.8,662.8" fill="none" stroke="#0c0c0c" stroke-width="1.8" stroke-linecap="round"/>
<path d="M457.2,662.6 Q457.5,665.1 458.9,665.1 Q460.3,665.1 460.6,662.6" fill="none" stroke="#0c0c0c" stroke-width="1.8" stroke-linecap="round"/>
<path d="M482.4,660.9 Q482.7,663.4 484.1,663.4 Q485.5,663.4 485.8,660.9" fill="none" stroke="#0c0c0c" stroke-width="1.8" stroke-linecap="round"/>
<path d="M476.7,659.5 Q477.0,662.0 478.4,662.0 Q479.8,662.0 480.1,659.5" fill="none" stroke="#0c0c0c" stroke-width="1.8" stroke-linecap="round"/>
<path d="M471.0,658.1 Q471.3,660.6 472.7,660.6 Q474.1,660.6 474.4,658.1" fill="none" stroke="#0c0c0c" stroke-width="1.8" stroke-linecap="round"/>
<path d="M465.3,656.8 Q465.6,659.3 467.0,659.3 Q468.4,659.3 468.7,656.8" fill="none" stroke="#0c0c0c" stroke-width="1.8" stroke-linecap="round"/>
<path d="M459.7,655.4 Q460.0,657.9 461.4,657.9 Q462.8,657.9 463.1,655.4" fill="none" stroke="#0c0c0c" stroke-width="1.8" stroke-linecap="round"/>
<path d="M481.3,656.7 Q481.6,659.2 483.0,659.2 Q484.4,659.2 484.7,656.7" fill="none" stroke="#0c0c0c" stroke-width="1.8" stroke-linecap="round"/>
<path d="M476.8,654.3 Q477.1,656.8 478.5,656.8 Q479.9,656.8 480.2,654.3" fill="none" stroke="#0c0c0c" stroke-width="1.8" stroke-linecap="round"/>
<path d="M472.3,652.0 Q472.6,654.5 474.0,654.5 Q475.4,654.5 475.7,652.0" fill="none" stroke="#0c0c0c" stroke-width="1.8" stroke-linecap="round"/>
<path d="M467.8,649.6 Q468.1,652.1 469.5,652.1 Q470.9,652.1 471.2,649.6" fill="none" stroke="#0c0c0c" stroke-width="1.8" stroke-linecap="round"/>
<path d="M489.1,657.1 Q489.4,659.6 490.8,659.6 Q492.2,659.6 492.5,657.1" fill="none" stroke="#0c0c0c" stroke-width="1.8" stroke-linecap="round"/>
<path d="M486.4,654.1 Q486.7,656.6 488.1,656.6 Q489.5,656.6 489.8,654.1" fill="none" stroke="#0c0c0c" stroke-width="1.8" stroke-linecap="round"/>
<path d="M483.7,651.1 Q484.0,653.6 485.4,653.6 Q486.8,653.6 487.1,651.1" fill="none" stroke="#0c0c0c" stroke-width="1.8" stroke-linecap="round"/>
<path d="M480.9,648.0 Q481.2,650.5 482.6,650.5 Q484.0,650.5 484.3,648.0" fill="none" stroke="#0c0c0c" stroke-width="1.8" stroke-linecap="round"/>
<path d="M478.2,645.0 Q478.5,647.5 479.9,647.5 Q481.3,647.5 481.6,645.0" fill="none" stroke="#0c0c0c" stroke-width="1.8" stroke-linecap="round"/>
<path d="M493.3,653.5 Q493.6,656.0 495.0,656.0 Q496.4,656.0 496.7,653.5" fill="none" stroke="#0c0c0c" stroke-width="1.8" stroke-linecap="round"/>
<path d="M492.6,650.1 Q492.9,652.6 494.3,652.6 Q495.7,652.6 496.0,650.1" fill="none" stroke="#0c0c0c" stroke-width="1.8" stroke-linecap="round"/>
<path d="M492.0,646.8 Q492.3,649.3 493.7,649.3 Q495.1,649.3 495.4,646.8" fill="none" stroke="#0c0c0c" stroke-width="1.8" stroke-linecap="round"/>
<path d="M491.3,643.4 Q491.6,645.9 493.0,645.9 Q494.4,645.9 494.7,643.4" fill="none" stroke="#0c0c0c" stroke-width="1.8" stroke-linecap="round"/>
<path d="M498.7,656.6 Q499.0,659.1 500.4,659.1 Q501.8,659.1 502.1,656.6" fill="none" stroke="#0c0c0c" stroke-width="1.8" stroke-linecap="round"/>
<path d="M500.2,653.3 Q500.5,655.8 501.9,655.8 Q503.3,655.8 503.6,653.3" fill="none" stroke="#0c0c0c" stroke-width="1.8" stroke-linecap="round"/>
<path d="M501.7,650.0 Q502.0,652.5 503.4,652.5 Q504.8,652.5 505.1,650.0" fill="none" stroke="#0c0c0c" stroke-width="1.8" stroke-linecap="round"/>
<path d="M503.2,646.8 Q503.5,649.3 504.9,649.3 Q506.3,649.3 506.6,646.8" fill="none" stroke="#0c0c0c" stroke-width="1.8" stroke-linecap="round"/>
<path d="M504.7,643.5 Q505.0,646.0 506.4,646.0 Q507.8,646.0 508.1,643.5" fill="none" stroke="#0c0c0c" stroke-width="1.8" stroke-linecap="round"/>
<path d="M506.2,655.2 Q506.5,657.7 507.9,657.7 Q509.3,657.7 509.6,655.2" fill="none" stroke="#0c0c0c" stroke-width="1.8" stroke-linecap="round"/>
<path d="M509.7,652.4 Q510.0,654.9 511.4,654.9 Q512.8,654.9 513.1,652.4" fill="none" stroke="#0c0c0c" stroke-width="1.8" stroke-linecap="round"/>
<path d="M513.2,649.6 Q513.5,652.1 514.9,652.1 Q516.3,652.1 516.6,649.6" fill="none" stroke="#0c0c0c" stroke-width="1.8" stroke-linecap="round"/>
<path d="M516.6,646.8 Q516.9,649.3 518.3,649.3 Q519.7,649.3 520.0,646.8" fill="none" stroke="#0c0c0c" stroke-width="1.8" stroke-linecap="round"/>
<path d="M506.7,659.5 Q507.0,662.0 508.4,662.0 Q509.8,662.0 510.1,659.5" fill="none" stroke="#0c0c0c" stroke-width="1.8" stroke-linecap="round"/>
<path d="M511.8,657.5 Q512.1,660.0 513.5,660.0 Q514.9,660.0 515.2,657.5" fill="none" stroke="#0c0c0c" stroke-width="1.8" stroke-linecap="round"/>
<path d="M516.8,655.5 Q517.1,658.0 518.5,658.0 Q519.9,658.0 520.2,655.5" fill="none" stroke="#0c0c0c" stroke-width="1.8" stroke-linecap="round"/>
<path d="M521.8,653.6 Q522.1,656.1 523.5,656.1 Q524.9,656.1 525.2,653.6" fill="none" stroke="#0c0c0c" stroke-width="1.8" stroke-linecap="round"/>
<path d="M526.9,651.6 Q527.2,654.1 528.6,654.1 Q530.0,654.1 530.3,651.6" fill="none" stroke="#0c0c0c" stroke-width="1.8" stroke-linecap="round"/>
<path d="M514.0,661.1 Q514.3,663.6 515.7,663.6 Q517.1,663.6 517.4,661.1" fill="none" stroke="#0c0c0c" stroke-width="1.8" stroke-linecap="round"/>
<path d="M520.0,660.2 Q520.3,662.7 521.7,662.7 Q523.1,662.7 523.4,660.2" fill="none" stroke="#0c0c0c" stroke-width="1.8" stroke-linecap="round"/>
<path d="M526.0,659.2 Q526.3,661.7 527.7,661.7 Q529.1,661.7 529.4,659.2" fill="none" stroke="#0c0c0c" stroke-width="1.8" stroke-linecap="round"/>
<path d="M532.0,658.3 Q532.3,660.8 533.7,660.8 Q535.1,660.8 535.4,658.3" fill="none" stroke="#0c0c0c" stroke-width="1.8" stroke-linecap="round"/>
<ellipse cx="497.00" cy="665.30" rx="9.30" ry="4.60" transform="rotate(0.00 497.00 665.30)" fill="#fff" stroke="#0c0c0c" stroke-width="1.4"/>
<line x1="491.80" y1="663.00" x2="502.30" y2="667.50" stroke="#0c0c0c" stroke-width="1.2" stroke-linecap="butt"/>
<path d="M499.8,675.5 V685.5" fill="none" stroke="#222" stroke-width="2.6" stroke-linejoin="round" stroke-linecap="round" />
<line x1="462.40" y1="622.50" x2="462.40" y2="696.00" stroke="#0c0c0c" stroke-width="1.1" stroke-linecap="butt"/>
<line x1="530.70" y1="661.50" x2="530.70" y2="731.00" stroke="#0c0c0c" stroke-width="1.1" stroke-linecap="butt"/>
<line x1="496.50" y1="635.00" x2="574.00" y2="592.40" stroke="#0c0c0c" stroke-width="1.1" stroke-linecap="butt"/>
<line x1="522.40" y1="649.75" x2="574.00" y2="624.00" stroke="#0c0c0c" stroke-width="1.1" stroke-linecap="butt"/>
<line x1="573.00" y1="580.00" x2="573.00" y2="584.00" stroke="#0c0c0c" stroke-width="1.1" stroke-linecap="butt"/>
<polygon points="573.00,592.40 569.90,581.40 576.10,581.40" fill="#0c0c0c"/>
<polygon points="573.00,624.00 576.10,635.00 569.90,635.00" fill="#0c0c0c"/>
<line x1="573.00" y1="632.00" x2="573.00" y2="635.00" stroke="#0c0c0c" stroke-width="1.1" stroke-linecap="butt"/>
<text x="564.00" y="612.00" font-size="13.5" text-anchor="start" font-weight="normal" stroke="#0c0c0c" stroke-width="0.28" textLength="16.0" lengthAdjust="spacingAndGlyphs">36</text>
<line x1="462.75" y1="696.30" x2="481.00" y2="707.40" stroke="#0c0c0c" stroke-width="1.1" stroke-linecap="butt"/>
<line x1="512.50" y1="724.30" x2="530.50" y2="730.80" stroke="#0c0c0c" stroke-width="1.1" stroke-linecap="butt"/>
<polygon points="462.90,696.40 473.81,699.64 470.79,704.59" fill="#0c0c0c"/>
<polygon points="530.50,731.00 519.31,728.98 521.76,723.72" fill="#0c0c0c"/>
<text x="482.00" y="720.60" font-size="13.5" text-anchor="start" font-weight="normal" stroke="#0c0c0c" stroke-width="0.28">Ø</text>
<text x="494.00" y="720.60" font-size="13.5" text-anchor="start" font-weight="normal" stroke="#0c0c0c" stroke-width="0.28" textLength="18.0" lengthAdjust="spacingAndGlyphs">96</text>
<text x="311.30" y="789.20" font-size="14" text-anchor="start" font-weight="normal" stroke="#0c0c0c" stroke-width="0.28" textLength="34.0" lengthAdjust="spacingAndGlyphs">G 1/2</text>
<path d="M311,792.2 H350.6 L361.5,772.5" fill="none" stroke="#0c0c0c" stroke-width="1.1" stroke-linejoin="round" stroke-linecap="round" />
<polygon points="365.30,765.00 363.08,775.14 358.13,772.51" fill="#0c0c0c"/>
</svg>
</body></html>
